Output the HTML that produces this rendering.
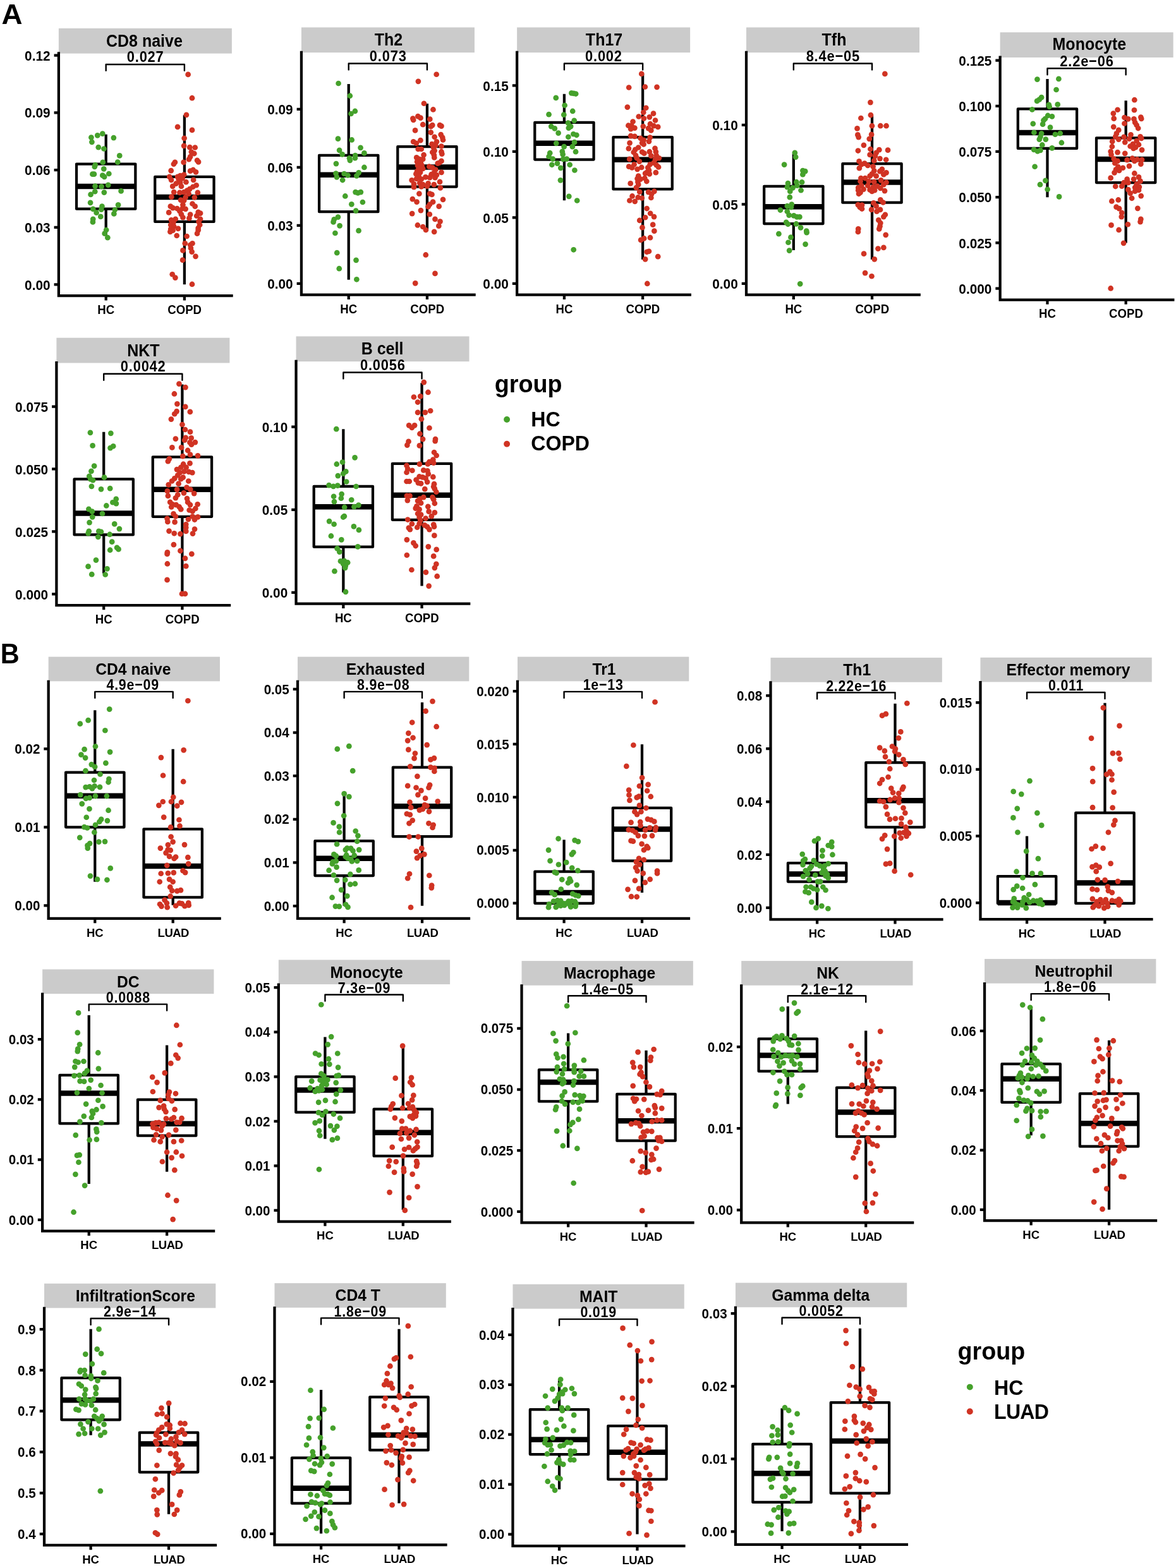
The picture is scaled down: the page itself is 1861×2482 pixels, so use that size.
<!DOCTYPE html>
<html lang="en"><head><meta charset="utf-8"><title>Immune cell infiltration boxplots</title>
<style>
html,body{margin:0;padding:0;background:#fff}
body{width:1861px;height:2482px;overflow:hidden}
svg{display:block}
svg text{font-family:'Liberation Sans', sans-serif;font-weight:bold;fill:#000}
</style></head><body>
<svg width="1861" height="2482" viewBox="0 0 1861 2482">
<rect width="1861" height="2482" fill="#fff"/>
<g>
<rect x="92.88" y="44.85" width="274" height="39.8" fill="#cbcbcb"/>
<text transform="translate(228.38 73.75) scale(1 1.075)" font-size="25.0" text-anchor="middle">CD8 naive</text>
<text transform="translate(79.58 95.75) scale(1 1.075)" font-size="20.8" text-anchor="end">0.12</text>
<text transform="translate(79.58 186.49) scale(1 1.075)" font-size="20.8" text-anchor="end">0.09</text>
<text transform="translate(79.58 277.22) scale(1 1.075)" font-size="20.8" text-anchor="end">0.06</text>
<text transform="translate(79.58 367.95) scale(1 1.075)" font-size="20.8" text-anchor="end">0.03</text>
<text transform="translate(79.58 458.69) scale(1 1.075)" font-size="20.8" text-anchor="end">0.00</text>
<path d="M85.58 87.55H90.75M85.58 178.29H90.75M85.58 269.02H90.75M85.58 359.75H90.75M85.58 450.49H90.75M167.68 470.27V475.45M291.88 470.27V475.45M92.88 82.25V468.15H368.68" fill="none" stroke="#000" stroke-width="4.25"/>
<text transform="translate(167.68 497.05) scale(1 1.04)" font-size="18.6" text-anchor="middle">HC</text>
<text transform="translate(292.18 497.05) scale(1 1.04)" font-size="18.6" text-anchor="middle">COPD</text>
<path d="M167.68 212.66V259.53M167.68 330.71V373.24M121.03 259.53H214.33V330.71H121.03ZM291.88 182.28V279.78M291.88 350.96V450.2M245.23 279.78H338.53V350.96H245.23Z" fill="none" stroke="#000" stroke-width="4.25" stroke-linejoin="round"/>
<path d="M121.03 295.12H214.33M245.23 311.9H338.53" fill="none" stroke="#000" stroke-width="8.5"/>
<g fill="#45a12b"><circle cx="144.39" cy="217.62" r="4.35"/><circle cx="154.26" cy="214.44" r="4.35"/><circle cx="162.29" cy="211.59" r="4.35"/><circle cx="179.86" cy="218.12" r="4.35"/><circle cx="145.4" cy="224.81" r="4.35"/><circle cx="155.77" cy="233.17" r="4.35"/><circle cx="164.47" cy="235.52" r="4.35"/><circle cx="189.22" cy="246.39" r="4.35"/><circle cx="186.21" cy="256.59" r="4.35"/><circle cx="162.79" cy="256.93" r="4.35"/><circle cx="150.75" cy="261.11" r="4.35"/><circle cx="149.75" cy="263.95" r="4.35"/><circle cx="164.3" cy="267.3" r="4.35"/><circle cx="146.4" cy="275.66" r="4.35"/><circle cx="148.91" cy="275.66" r="4.35"/><circle cx="172.33" cy="274.99" r="4.35"/><circle cx="162.29" cy="277.67" r="4.35"/><circle cx="165.14" cy="279.84" r="4.35"/><circle cx="171.16" cy="292.89" r="4.35"/><circle cx="150.58" cy="294.57" r="4.35"/><circle cx="160.62" cy="295.23" r="4.35"/><circle cx="150.25" cy="303.26" r="4.35"/><circle cx="164.8" cy="304.6" r="4.35"/><circle cx="191.57" cy="302.43" r="4.35"/><circle cx="143.56" cy="307.95" r="4.35"/><circle cx="143.06" cy="320.83" r="4.35"/><circle cx="187.05" cy="324.34" r="4.35"/><circle cx="161.46" cy="326.68" r="4.35"/><circle cx="147.24" cy="330.86" r="4.35"/><circle cx="160.29" cy="331.7" r="4.35"/><circle cx="181.86" cy="332.04" r="4.35"/><circle cx="152.59" cy="336.72" r="4.35"/><circle cx="180.36" cy="338.39" r="4.35"/><circle cx="159.28" cy="342.91" r="4.35"/><circle cx="147.24" cy="346.76" r="4.35"/><circle cx="146.9" cy="351.44" r="4.35"/><circle cx="168.15" cy="363.99" r="4.35"/><circle cx="165.64" cy="369.67" r="4.35"/><circle cx="170.32" cy="376.2" r="4.35"/></g>
<g fill="#d03323"><circle cx="297.62" cy="117.92" r="4.35"/><circle cx="303.98" cy="155.22" r="4.35"/><circle cx="294.95" cy="181.82" r="4.35"/><circle cx="281.06" cy="200.89" r="4.35"/><circle cx="303.98" cy="205.91" r="4.35"/><circle cx="291.6" cy="218.79" r="4.35"/><circle cx="291.1" cy="230.83" r="4.35"/><circle cx="300.3" cy="233.17" r="4.35"/><circle cx="308.66" cy="233.51" r="4.35"/><circle cx="302.81" cy="240.53" r="4.35"/><circle cx="307.32" cy="243.04" r="4.35"/><circle cx="301.13" cy="248.06" r="4.35"/><circle cx="298.96" cy="252.24" r="4.35"/><circle cx="312.01" cy="253.92" r="4.35"/><circle cx="314.02" cy="256.43" r="4.35"/><circle cx="276.88" cy="256.93" r="4.35"/><circle cx="274.87" cy="259.77" r="4.35"/><circle cx="290.6" cy="256.93" r="4.35"/><circle cx="270.69" cy="270.14" r="4.35"/><circle cx="301.13" cy="270.64" r="4.35"/><circle cx="305.65" cy="268.97" r="4.35"/><circle cx="310" cy="272.32" r="4.35"/><circle cx="291.1" cy="276.5" r="4.35"/><circle cx="285.24" cy="278.17" r="4.35"/><circle cx="281.06" cy="279.84" r="4.35"/><circle cx="268.18" cy="279.84" r="4.35"/><circle cx="288.59" cy="282.35" r="4.35"/><circle cx="282.73" cy="284.03" r="4.35"/><circle cx="271.02" cy="284.86" r="4.35"/><circle cx="306.15" cy="284.86" r="4.35"/><circle cx="294.44" cy="288.21" r="4.35"/><circle cx="285.24" cy="289.04" r="4.35"/><circle cx="278.55" cy="290.72" r="4.35"/><circle cx="310.67" cy="293.23" r="4.35"/><circle cx="273.2" cy="294.9" r="4.35"/><circle cx="286.92" cy="294.9" r="4.35"/><circle cx="305.32" cy="295.74" r="4.35"/><circle cx="300.3" cy="299.08" r="4.35"/><circle cx="296.12" cy="301.59" r="4.35"/><circle cx="275.21" cy="304.1" r="4.35"/><circle cx="284.41" cy="304.94" r="4.35"/><circle cx="291.1" cy="304.1" r="4.35"/><circle cx="312.84" cy="304.94" r="4.35"/><circle cx="298.63" cy="306.61" r="4.35"/><circle cx="271.36" cy="311.63" r="4.35"/><circle cx="293.61" cy="312.46" r="4.35"/><circle cx="307.83" cy="312.46" r="4.35"/><circle cx="286.08" cy="316.65" r="4.35"/><circle cx="291.1" cy="317.48" r="4.35"/><circle cx="304.48" cy="322.5" r="4.35"/><circle cx="289.43" cy="324.17" r="4.35"/><circle cx="269.85" cy="326.68" r="4.35"/><circle cx="308.66" cy="326.68" r="4.35"/><circle cx="273.53" cy="329.19" r="4.35"/><circle cx="280.22" cy="330.03" r="4.35"/><circle cx="288.59" cy="330.03" r="4.35"/><circle cx="293.61" cy="330.86" r="4.35"/><circle cx="284.41" cy="334.21" r="4.35"/><circle cx="267.18" cy="336.39" r="4.35"/><circle cx="313.68" cy="335.88" r="4.35"/><circle cx="317.03" cy="337.56" r="4.35"/><circle cx="286.92" cy="339.23" r="4.35"/><circle cx="301.13" cy="339.56" r="4.35"/><circle cx="311.17" cy="341.74" r="4.35"/><circle cx="289.43" cy="344.25" r="4.35"/><circle cx="299.46" cy="345.42" r="4.35"/><circle cx="277.72" cy="346.76" r="4.35"/><circle cx="271.02" cy="348.43" r="4.35"/><circle cx="317.03" cy="346.76" r="4.35"/><circle cx="314.52" cy="350.94" r="4.35"/><circle cx="274.37" cy="352.61" r="4.35"/><circle cx="270.19" cy="355.96" r="4.35"/><circle cx="316.19" cy="355.96" r="4.35"/><circle cx="275.21" cy="358.47" r="4.35"/><circle cx="313.68" cy="360.98" r="4.35"/><circle cx="270.19" cy="362.65" r="4.35"/><circle cx="281.9" cy="361.81" r="4.35"/><circle cx="313.68" cy="364.32" r="4.35"/><circle cx="273.53" cy="364.66" r="4.35"/><circle cx="269.35" cy="366.83" r="4.35"/><circle cx="312.01" cy="369.67" r="4.35"/><circle cx="279.72" cy="373.02" r="4.35"/><circle cx="295.61" cy="374.02" r="4.35"/><circle cx="292.77" cy="385.23" r="4.35"/><circle cx="304.48" cy="385.23" r="4.35"/><circle cx="301.13" cy="387.74" r="4.35"/><circle cx="301.97" cy="392.76" r="4.35"/><circle cx="289.43" cy="396.44" r="4.35"/><circle cx="303.64" cy="398.61" r="4.35"/><circle cx="309.5" cy="405.81" r="4.35"/><circle cx="289.09" cy="411.66" r="4.35"/><circle cx="272.7" cy="434.24" r="4.35"/><circle cx="277.38" cy="439.6" r="4.35"/><circle cx="303.98" cy="449.97" r="4.35"/></g>
<path d="M167.68 111.85V101.95H291.88V111.85" fill="none" stroke="#000" stroke-width="2.4" stroke-linecap="round" stroke-linejoin="round"/>
<text transform="translate(230.18 98.2) scale(1 1.125)" font-size="21.9" text-anchor="middle" letter-spacing="0.8">0.027</text>
</g>
<g>
<rect x="476.93" y="43.4" width="274" height="39.8" fill="#cbcbcb"/>
<text transform="translate(615.03 72.3) scale(1 1.075)" font-size="25.0" text-anchor="middle">Th2</text>
<text transform="translate(463.63 181.08) scale(1 1.075)" font-size="20.8" text-anchor="end">0.09</text>
<text transform="translate(463.63 273.08) scale(1 1.075)" font-size="20.8" text-anchor="end">0.06</text>
<text transform="translate(463.63 365.09) scale(1 1.075)" font-size="20.8" text-anchor="end">0.03</text>
<text transform="translate(463.63 457.1) scale(1 1.075)" font-size="20.8" text-anchor="end">0.00</text>
<path d="M469.63 172.88H474.8M469.63 264.88H474.8M469.63 356.89H474.8M469.63 448.9H474.8M551.73 468.82V474M675.93 468.82V474M476.93 80.8V466.7H752.73" fill="none" stroke="#000" stroke-width="4.25"/>
<text transform="translate(551.73 495.6) scale(1 1.04)" font-size="18.6" text-anchor="middle">HC</text>
<text transform="translate(676.23 495.6) scale(1 1.04)" font-size="18.6" text-anchor="middle">COPD</text>
<path d="M551.73 133.1V245.85M551.73 335.21V442.63M505.08 245.85H598.38V335.21H505.08ZM675.93 163.99V232.21M675.93 295.5V365.14M629.28 232.21H722.58V295.5H629.28Z" fill="none" stroke="#000" stroke-width="4.25" stroke-linejoin="round"/>
<path d="M505.08 276.86H598.38M629.28 264.58H722.58" fill="none" stroke="#000" stroke-width="8.5"/>
<g fill="#45a12b"><circle cx="535.59" cy="131.98" r="4.35"/><circle cx="553.82" cy="151.72" r="4.35"/><circle cx="561.85" cy="175.97" r="4.35"/><circle cx="555.49" cy="179.99" r="4.35"/><circle cx="534.92" cy="219.63" r="4.35"/><circle cx="556.66" cy="221.47" r="4.35"/><circle cx="570.55" cy="233.85" r="4.35"/><circle cx="537.09" cy="237.86" r="4.35"/><circle cx="541.61" cy="244.39" r="4.35"/><circle cx="576.4" cy="242.38" r="4.35"/><circle cx="562.18" cy="246.06" r="4.35"/><circle cx="552.98" cy="250.24" r="4.35"/><circle cx="561.85" cy="250.24" r="4.35"/><circle cx="553.82" cy="253.92" r="4.35"/><circle cx="531.91" cy="259.11" r="4.35"/><circle cx="576.4" cy="264.96" r="4.35"/><circle cx="531.57" cy="274.5" r="4.35"/><circle cx="544.62" cy="275" r="4.35"/><circle cx="567.7" cy="273.33" r="4.35"/><circle cx="550.47" cy="277.51" r="4.35"/><circle cx="564.36" cy="278.35" r="4.35"/><circle cx="532.91" cy="280.35" r="4.35"/><circle cx="542.11" cy="285.04" r="4.35"/><circle cx="562.52" cy="304.11" r="4.35"/><circle cx="566.37" cy="305.45" r="4.35"/><circle cx="570.88" cy="304.11" r="4.35"/><circle cx="546.29" cy="310.46" r="4.35"/><circle cx="573.89" cy="320" r="4.35"/><circle cx="556.33" cy="323.34" r="4.35"/><circle cx="563.19" cy="333.55" r="4.35"/><circle cx="534.92" cy="343.59" r="4.35"/><circle cx="528.73" cy="347.27" r="4.35"/><circle cx="527.56" cy="351.45" r="4.35"/><circle cx="537.59" cy="357.3" r="4.35"/><circle cx="567.54" cy="365.16" r="4.35"/><circle cx="530.4" cy="369.01" r="4.35"/><circle cx="533.24" cy="400.13" r="4.35"/><circle cx="563.52" cy="411.84" r="4.35"/><circle cx="536.76" cy="425.22" r="4.35"/><circle cx="564.36" cy="442.28" r="4.35"/></g>
<g fill="#d03323"><circle cx="690.66" cy="117.76" r="4.35"/><circle cx="661.88" cy="128.8" r="4.35"/><circle cx="670.92" cy="163.76" r="4.35"/><circle cx="685.47" cy="173.46" r="4.35"/><circle cx="661.38" cy="184.17" r="4.35"/><circle cx="665.56" cy="186.68" r="4.35"/><circle cx="653.35" cy="187.51" r="4.35"/><circle cx="654.19" cy="190.02" r="4.35"/><circle cx="680.28" cy="188.68" r="4.35"/><circle cx="669.24" cy="197.22" r="4.35"/><circle cx="684.3" cy="198.05" r="4.35"/><circle cx="696.01" cy="198.05" r="4.35"/><circle cx="698.52" cy="199.56" r="4.35"/><circle cx="681.79" cy="200.06" r="4.35"/><circle cx="657.03" cy="206.42" r="4.35"/><circle cx="681.79" cy="209.59" r="4.35"/><circle cx="697.68" cy="213.11" r="4.35"/><circle cx="687.64" cy="216.79" r="4.35"/><circle cx="700.19" cy="217.62" r="4.35"/><circle cx="701.03" cy="221.47" r="4.35"/><circle cx="665.4" cy="222.14" r="4.35"/><circle cx="654.19" cy="224.31" r="4.35"/><circle cx="690.99" cy="224.31" r="4.35"/><circle cx="658.87" cy="226.82" r="4.35"/><circle cx="683.46" cy="228.16" r="4.35"/><circle cx="689.32" cy="230.17" r="4.35"/><circle cx="698.52" cy="231.51" r="4.35"/><circle cx="685.97" cy="233.52" r="4.35"/><circle cx="661.72" cy="236.02" r="4.35"/><circle cx="666.73" cy="236.02" r="4.35"/><circle cx="687.64" cy="238.53" r="4.35"/><circle cx="698.52" cy="240.21" r="4.35"/><circle cx="684.3" cy="241.04" r="4.35"/><circle cx="699.35" cy="243.55" r="4.35"/><circle cx="670.58" cy="245.22" r="4.35"/><circle cx="686.81" cy="245.22" r="4.35"/><circle cx="687.31" cy="249.41" r="4.35"/><circle cx="659.21" cy="249.41" r="4.35"/><circle cx="663.39" cy="251.92" r="4.35"/><circle cx="669.24" cy="251.92" r="4.35"/><circle cx="698.52" cy="254.93" r="4.35"/><circle cx="660.04" cy="256.1" r="4.35"/><circle cx="665.9" cy="257.77" r="4.35"/><circle cx="692.66" cy="258.61" r="4.35"/><circle cx="695.17" cy="257.77" r="4.35"/><circle cx="660.88" cy="261.95" r="4.35"/><circle cx="667.57" cy="261.95" r="4.35"/><circle cx="679.28" cy="263.63" r="4.35"/><circle cx="684.3" cy="265.3" r="4.35"/><circle cx="662.55" cy="266.97" r="4.35"/><circle cx="669.24" cy="266.97" r="4.35"/><circle cx="689.32" cy="268.64" r="4.35"/><circle cx="660.04" cy="271.15" r="4.35"/><circle cx="665.06" cy="272.83" r="4.35"/><circle cx="698.52" cy="272.83" r="4.35"/><circle cx="686.81" cy="273.66" r="4.35"/><circle cx="658.37" cy="275.34" r="4.35"/><circle cx="682.63" cy="276.17" r="4.35"/><circle cx="690.99" cy="277.01" r="4.35"/><circle cx="662.55" cy="278.68" r="4.35"/><circle cx="673.43" cy="280.35" r="4.35"/><circle cx="680.12" cy="281.19" r="4.35"/><circle cx="688.48" cy="281.19" r="4.35"/><circle cx="659.21" cy="282.86" r="4.35"/><circle cx="666.73" cy="283.7" r="4.35"/><circle cx="651.68" cy="285.37" r="4.35"/><circle cx="696.01" cy="287.88" r="4.35"/><circle cx="664.22" cy="289.55" r="4.35"/><circle cx="677.61" cy="290.39" r="4.35"/><circle cx="655.02" cy="291.23" r="4.35"/><circle cx="669.24" cy="292.06" r="4.35"/><circle cx="686.81" cy="292.06" r="4.35"/><circle cx="675.93" cy="294.57" r="4.35"/><circle cx="655.02" cy="296.25" r="4.35"/><circle cx="666.73" cy="295.41" r="4.35"/><circle cx="696.84" cy="297.42" r="4.35"/><circle cx="663.39" cy="306.62" r="4.35"/><circle cx="680.12" cy="306.62" r="4.35"/><circle cx="683.46" cy="307.95" r="4.35"/><circle cx="652.85" cy="315.15" r="4.35"/><circle cx="701.03" cy="315.82" r="4.35"/><circle cx="659.54" cy="319.66" r="4.35"/><circle cx="685.13" cy="319.66" r="4.35"/><circle cx="680.12" cy="323.51" r="4.35"/><circle cx="677.61" cy="327.19" r="4.35"/><circle cx="694.67" cy="326.69" r="4.35"/><circle cx="665.9" cy="333.05" r="4.35"/><circle cx="652.18" cy="338.07" r="4.35"/><circle cx="679.78" cy="339.24" r="4.35"/><circle cx="688.48" cy="346.93" r="4.35"/><circle cx="696.51" cy="350.61" r="4.35"/><circle cx="660.88" cy="356.47" r="4.35"/><circle cx="694.34" cy="357.64" r="4.35"/><circle cx="669.24" cy="358.98" r="4.35"/><circle cx="673.93" cy="363.99" r="4.35"/><circle cx="687.14" cy="366.84" r="4.35"/><circle cx="673.76" cy="403.47" r="4.35"/><circle cx="688.48" cy="432.91" r="4.35"/><circle cx="657.2" cy="448.3" r="4.35"/></g>
<path d="M551.73 110.4V100.5H675.93V110.4" fill="none" stroke="#000" stroke-width="2.4" stroke-linecap="round" stroke-linejoin="round"/>
<text transform="translate(614.23 96.75) scale(1 1.125)" font-size="21.9" text-anchor="middle" letter-spacing="0.8">0.073</text>
</g>
<g>
<rect x="818.12" y="43.4" width="274" height="39.8" fill="#cbcbcb"/>
<text transform="translate(956.02 72.3) scale(1 1.075)" font-size="25.0" text-anchor="middle">Th17</text>
<text transform="translate(804.82 143.61) scale(1 1.075)" font-size="20.8" text-anchor="end">0.15</text>
<text transform="translate(804.82 248.06) scale(1 1.075)" font-size="20.8" text-anchor="end">0.10</text>
<text transform="translate(804.82 352.5) scale(1 1.075)" font-size="20.8" text-anchor="end">0.05</text>
<text transform="translate(804.82 456.95) scale(1 1.075)" font-size="20.8" text-anchor="end">0.00</text>
<path d="M810.82 135.41H815.99M810.82 239.86H815.99M810.82 344.3H815.99M810.82 448.75H815.99M892.92 468.82V474M1017.12 468.82V474M818.12 80.8V466.7H1093.92" fill="none" stroke="#000" stroke-width="4.25"/>
<text transform="translate(892.92 495.6) scale(1 1.04)" font-size="18.6" text-anchor="middle">HC</text>
<text transform="translate(1017.42 495.6) scale(1 1.04)" font-size="18.6" text-anchor="middle">COPD</text>
<path d="M892.92 148.8V193.89M892.92 252.59V317.27M846.27 193.89H939.57V252.59H846.27ZM1017.12 117.26V217.01M1017.12 299.41V410.82M970.47 217.01H1063.77V299.41H970.47Z" fill="none" stroke="#000" stroke-width="4.25" stroke-linejoin="round"/>
<path d="M846.27 226.72H939.57M970.47 252.65H1063.77" fill="none" stroke="#000" stroke-width="8.5"/>
<g fill="#45a12b"><circle cx="879.76" cy="154.89" r="4.35"/><circle cx="904.35" cy="147.37" r="4.35"/><circle cx="907.87" cy="147.87" r="4.35"/><circle cx="911.21" cy="148.54" r="4.35"/><circle cx="893.65" cy="166.77" r="4.35"/><circle cx="906.2" cy="175.97" r="4.35"/><circle cx="868.56" cy="181.16" r="4.35"/><circle cx="892.31" cy="181.66" r="4.35"/><circle cx="908.7" cy="190.86" r="4.35"/><circle cx="899" cy="194.71" r="4.35"/><circle cx="872.24" cy="200.06" r="4.35"/><circle cx="877.76" cy="203.4" r="4.35"/><circle cx="903.18" cy="200.06" r="4.35"/><circle cx="899.84" cy="202.57" r="4.35"/><circle cx="883.61" cy="210.6" r="4.35"/><circle cx="907.37" cy="212.27" r="4.35"/><circle cx="912.38" cy="213.78" r="4.35"/><circle cx="899.34" cy="216.79" r="4.35"/><circle cx="909.04" cy="225.15" r="4.35"/><circle cx="880.27" cy="226.82" r="4.35"/><circle cx="892.65" cy="232.18" r="4.35"/><circle cx="905.86" cy="232.18" r="4.35"/><circle cx="889.8" cy="239.87" r="4.35"/><circle cx="911.05" cy="240.21" r="4.35"/><circle cx="870.23" cy="242.21" r="4.35"/><circle cx="890.64" cy="244.39" r="4.35"/><circle cx="868.56" cy="247.73" r="4.35"/><circle cx="874.75" cy="251.58" r="4.35"/><circle cx="891.14" cy="251.92" r="4.35"/><circle cx="896.83" cy="251.58" r="4.35"/><circle cx="881.94" cy="258.61" r="4.35"/><circle cx="873.41" cy="260.78" r="4.35"/><circle cx="901.68" cy="260.78" r="4.35"/><circle cx="887.29" cy="265.8" r="4.35"/><circle cx="909.37" cy="269.48" r="4.35"/><circle cx="886.96" cy="285.37" r="4.35"/><circle cx="900.34" cy="310.8" r="4.35"/><circle cx="913.22" cy="317.49" r="4.35"/><circle cx="907.7" cy="395.28" r="4.35"/></g>
<g fill="#d03323"><circle cx="1015.26" cy="116.92" r="4.35"/><circle cx="995.19" cy="138.5" r="4.35"/><circle cx="1020.78" cy="137.5" r="4.35"/><circle cx="1039.52" cy="137.83" r="4.35"/><circle cx="992.85" cy="169.61" r="4.35"/><circle cx="1022.29" cy="170.79" r="4.35"/><circle cx="1018.27" cy="177.81" r="4.35"/><circle cx="1034" cy="179.65" r="4.35"/><circle cx="1010.75" cy="184.5" r="4.35"/><circle cx="1027.81" cy="185.34" r="4.35"/><circle cx="1018.94" cy="187.51" r="4.35"/><circle cx="1037.01" cy="190.52" r="4.35"/><circle cx="1001.54" cy="192.53" r="4.35"/><circle cx="1028.98" cy="196.21" r="4.35"/><circle cx="994.35" cy="198.72" r="4.35"/><circle cx="999.37" cy="198.72" r="4.35"/><circle cx="1034.5" cy="199.22" r="4.35"/><circle cx="1041.19" cy="200.9" r="4.35"/><circle cx="1004.39" cy="202.57" r="4.35"/><circle cx="1017.77" cy="200.06" r="4.35"/><circle cx="1026.13" cy="203.07" r="4.35"/><circle cx="998.2" cy="204.24" r="4.35"/><circle cx="1030.32" cy="206.42" r="4.35"/><circle cx="998.2" cy="215.11" r="4.35"/><circle cx="1004.39" cy="215.95" r="4.35"/><circle cx="1028.64" cy="217.62" r="4.35"/><circle cx="1013.59" cy="218.79" r="4.35"/><circle cx="1018.61" cy="221.81" r="4.35"/><circle cx="1026.97" cy="223.81" r="4.35"/><circle cx="996.53" cy="226.32" r="4.35"/><circle cx="1016.1" cy="226.32" r="4.35"/><circle cx="1018.61" cy="228.5" r="4.35"/><circle cx="1010.24" cy="233.52" r="4.35"/><circle cx="994.85" cy="235.19" r="4.35"/><circle cx="1036.51" cy="234.85" r="4.35"/><circle cx="1005.22" cy="236.86" r="4.35"/><circle cx="1027.81" cy="240.21" r="4.35"/><circle cx="1016.1" cy="240.54" r="4.35"/><circle cx="1002.72" cy="241.04" r="4.35"/><circle cx="1037.84" cy="240.21" r="4.35"/><circle cx="1019.44" cy="242.72" r="4.35"/><circle cx="1006.06" cy="246.06" r="4.35"/><circle cx="1030.32" cy="246.56" r="4.35"/><circle cx="1038.68" cy="246.06" r="4.35"/><circle cx="1007.73" cy="250.24" r="4.35"/><circle cx="1042.86" cy="250.24" r="4.35"/><circle cx="996.19" cy="251.92" r="4.35"/><circle cx="1037.01" cy="252.25" r="4.35"/><circle cx="1011.92" cy="255.6" r="4.35"/><circle cx="1034.5" cy="257.77" r="4.35"/><circle cx="1003.55" cy="260.28" r="4.35"/><circle cx="1028.64" cy="260.28" r="4.35"/><circle cx="1038.68" cy="261.12" r="4.35"/><circle cx="995.19" cy="263.63" r="4.35"/><circle cx="1042.03" cy="264.46" r="4.35"/><circle cx="1015.26" cy="264.96" r="4.35"/><circle cx="1000.21" cy="265.3" r="4.35"/><circle cx="1025.3" cy="265.3" r="4.35"/><circle cx="1008.57" cy="267.81" r="4.35"/><circle cx="1026.97" cy="269.48" r="4.35"/><circle cx="1023.63" cy="272.83" r="4.35"/><circle cx="1037.84" cy="273.16" r="4.35"/><circle cx="1021.12" cy="274.5" r="4.35"/><circle cx="1027.81" cy="275.34" r="4.35"/><circle cx="1010.24" cy="278.68" r="4.35"/><circle cx="1020.28" cy="282.03" r="4.35"/><circle cx="1008.57" cy="282.86" r="4.35"/><circle cx="1013.59" cy="283.7" r="4.35"/><circle cx="1023.29" cy="287.04" r="4.35"/><circle cx="1009.41" cy="287.88" r="4.35"/><circle cx="997.7" cy="290.39" r="4.35"/><circle cx="1010.24" cy="292.06" r="4.35"/><circle cx="1006.9" cy="297.08" r="4.35"/><circle cx="1026.13" cy="304.11" r="4.35"/><circle cx="1035.34" cy="302.94" r="4.35"/><circle cx="1012.25" cy="303.77" r="4.35"/><circle cx="1031.15" cy="307.12" r="4.35"/><circle cx="1000.54" cy="310.46" r="4.35"/><circle cx="1030.32" cy="312.97" r="4.35"/><circle cx="1009.74" cy="312.47" r="4.35"/><circle cx="1015.76" cy="313.48" r="4.35"/><circle cx="996.36" cy="317.49" r="4.35"/><circle cx="1004.72" cy="318.83" r="4.35"/><circle cx="1023.63" cy="330.04" r="4.35"/><circle cx="1029.15" cy="337.73" r="4.35"/><circle cx="1035" cy="343.08" r="4.35"/><circle cx="1021.12" cy="344.25" r="4.35"/><circle cx="1012.25" cy="348.94" r="4.35"/><circle cx="1033.16" cy="355.63" r="4.35"/><circle cx="1016.43" cy="360.15" r="4.35"/><circle cx="1035.34" cy="365.67" r="4.35"/><circle cx="1028.98" cy="376.21" r="4.35"/><circle cx="1019.11" cy="377.38" r="4.35"/><circle cx="1014.09" cy="379.89" r="4.35"/><circle cx="1026.97" cy="397.78" r="4.35"/><circle cx="1023.63" cy="398.79" r="4.35"/><circle cx="1041.19" cy="406.15" r="4.35"/><circle cx="1021.12" cy="410.33" r="4.35"/><circle cx="1024.29" cy="448.97" r="4.35"/></g>
<path d="M892.92 110.4V100.5H1017.12V110.4" fill="none" stroke="#000" stroke-width="2.4" stroke-linecap="round" stroke-linejoin="round"/>
<text transform="translate(955.42 96.75) scale(1 1.125)" font-size="21.9" text-anchor="middle" letter-spacing="0.8">0.002</text>
</g>
<g>
<rect x="1181.01" y="43.4" width="274" height="39.8" fill="#cbcbcb"/>
<text transform="translate(1320.01 72.3) scale(1 1.075)" font-size="25.0" text-anchor="middle">Tfh</text>
<text transform="translate(1167.71 206.01) scale(1 1.075)" font-size="20.8" text-anchor="end">0.10</text>
<text transform="translate(1167.71 331.58) scale(1 1.075)" font-size="20.8" text-anchor="end">0.05</text>
<text transform="translate(1167.71 457.15) scale(1 1.075)" font-size="20.8" text-anchor="end">0.00</text>
<path d="M1173.71 197.81H1178.89M1173.71 323.38H1178.89M1173.71 448.95H1178.89M1255.81 468.82V474M1380.01 468.82V474M1181.01 80.8V466.7H1456.81" fill="none" stroke="#000" stroke-width="4.25"/>
<text transform="translate(1255.81 495.6) scale(1 1.04)" font-size="18.6" text-anchor="middle">HC</text>
<text transform="translate(1380.31 495.6) scale(1 1.04)" font-size="18.6" text-anchor="middle">COPD</text>
<path d="M1255.81 243.7V294.91M1255.81 354.05V395.99M1209.16 294.91H1302.46V354.05H1209.16ZM1380.01 182.96V259.15M1380.01 320.72V410.82M1333.36 259.15H1426.66V320.72H1333.36Z" fill="none" stroke="#000" stroke-width="4.25" stroke-linejoin="round"/>
<path d="M1209.16 327.31H1302.46M1333.36 288.62H1426.66" fill="none" stroke="#000" stroke-width="8.5"/>
<g fill="#45a12b"><circle cx="1257.82" cy="241.88" r="4.35"/><circle cx="1259.16" cy="248.57" r="4.35"/><circle cx="1241.09" cy="260.61" r="4.35"/><circle cx="1270.37" cy="269.98" r="4.35"/><circle cx="1274.21" cy="271.15" r="4.35"/><circle cx="1270.37" cy="276.17" r="4.35"/><circle cx="1246.95" cy="290.06" r="4.35"/><circle cx="1260.33" cy="288.22" r="4.35"/><circle cx="1269.03" cy="288.38" r="4.35"/><circle cx="1261.5" cy="293.74" r="4.35"/><circle cx="1245.78" cy="296.25" r="4.35"/><circle cx="1254.47" cy="297.42" r="4.35"/><circle cx="1267.52" cy="301.26" r="4.35"/><circle cx="1250.29" cy="302.94" r="4.35"/><circle cx="1249.79" cy="312.14" r="4.35"/><circle cx="1252.8" cy="323.51" r="4.35"/><circle cx="1245.78" cy="326.02" r="4.35"/><circle cx="1251.97" cy="328.03" r="4.35"/><circle cx="1234.9" cy="332.54" r="4.35"/><circle cx="1245.78" cy="334.72" r="4.35"/><circle cx="1248.62" cy="340.57" r="4.35"/><circle cx="1256.15" cy="341.41" r="4.35"/><circle cx="1261.17" cy="343.42" r="4.35"/><circle cx="1265.35" cy="343.42" r="4.35"/><circle cx="1244.1" cy="351.95" r="4.35"/><circle cx="1246.95" cy="354.79" r="4.35"/><circle cx="1259.99" cy="354.46" r="4.35"/><circle cx="1267.02" cy="360.31" r="4.35"/><circle cx="1276.22" cy="365.67" r="4.35"/><circle cx="1276.56" cy="368.18" r="4.35"/><circle cx="1232.39" cy="370.18" r="4.35"/><circle cx="1251.46" cy="375.7" r="4.35"/><circle cx="1247.45" cy="383.73" r="4.35"/><circle cx="1274.55" cy="386.58" r="4.35"/><circle cx="1249.12" cy="396.61" r="4.35"/><circle cx="1266.18" cy="449.31" r="4.35"/></g>
<g fill="#d03323"><circle cx="1400.34" cy="116.92" r="4.35"/><circle cx="1377.43" cy="162.09" r="4.35"/><circle cx="1377.93" cy="182.16" r="4.35"/><circle cx="1362.37" cy="187.01" r="4.35"/><circle cx="1379.93" cy="199.22" r="4.35"/><circle cx="1393.32" cy="199.22" r="4.35"/><circle cx="1402.52" cy="199.22" r="4.35"/><circle cx="1356.52" cy="203.4" r="4.35"/><circle cx="1379.1" cy="212.94" r="4.35"/><circle cx="1357.35" cy="213.44" r="4.35"/><circle cx="1358.69" cy="217.12" r="4.35"/><circle cx="1375.75" cy="219.8" r="4.35"/><circle cx="1366.89" cy="229.84" r="4.35"/><circle cx="1377.43" cy="236.02" r="4.35"/><circle cx="1391.31" cy="237.2" r="4.35"/><circle cx="1405.03" cy="237.7" r="4.35"/><circle cx="1357.85" cy="238.53" r="4.35"/><circle cx="1386.63" cy="241.88" r="4.35"/><circle cx="1376.59" cy="244.89" r="4.35"/><circle cx="1384.95" cy="246.9" r="4.35"/><circle cx="1392.48" cy="251.08" r="4.35"/><circle cx="1402.18" cy="252.75" r="4.35"/><circle cx="1383.28" cy="254.43" r="4.35"/><circle cx="1359.53" cy="255.26" r="4.35"/><circle cx="1368.22" cy="258.61" r="4.35"/><circle cx="1363.21" cy="260.28" r="4.35"/><circle cx="1373.24" cy="261.95" r="4.35"/><circle cx="1381.61" cy="263.63" r="4.35"/><circle cx="1359.86" cy="266.13" r="4.35"/><circle cx="1395.83" cy="267.81" r="4.35"/><circle cx="1383.28" cy="270.32" r="4.35"/><circle cx="1392.48" cy="271.15" r="4.35"/><circle cx="1402.52" cy="273.33" r="4.35"/><circle cx="1379.93" cy="275.34" r="4.35"/><circle cx="1398.34" cy="276.17" r="4.35"/><circle cx="1376.59" cy="278.68" r="4.35"/><circle cx="1386.63" cy="278.68" r="4.35"/><circle cx="1362.37" cy="282.03" r="4.35"/><circle cx="1369.06" cy="282.03" r="4.35"/><circle cx="1394.15" cy="285.37" r="4.35"/><circle cx="1361.53" cy="287.04" r="4.35"/><circle cx="1374.92" cy="287.04" r="4.35"/><circle cx="1383.28" cy="287.88" r="4.35"/><circle cx="1402.52" cy="288.72" r="4.35"/><circle cx="1398.34" cy="292.06" r="4.35"/><circle cx="1363.21" cy="293.74" r="4.35"/><circle cx="1373.24" cy="293.74" r="4.35"/><circle cx="1388.3" cy="294.57" r="4.35"/><circle cx="1381.61" cy="296.25" r="4.35"/><circle cx="1358.19" cy="297.08" r="4.35"/><circle cx="1393.32" cy="297.92" r="4.35"/><circle cx="1366.55" cy="299.59" r="4.35"/><circle cx="1358.19" cy="301.26" r="4.35"/><circle cx="1376.59" cy="300.43" r="4.35"/><circle cx="1400.01" cy="302.1" r="4.35"/><circle cx="1384.12" cy="301.26" r="4.35"/><circle cx="1379.93" cy="302.94" r="4.35"/><circle cx="1361.53" cy="304.61" r="4.35"/><circle cx="1359.02" cy="306.78" r="4.35"/><circle cx="1393.32" cy="316.32" r="4.35"/><circle cx="1397.5" cy="320.5" r="4.35"/><circle cx="1382.44" cy="321.34" r="4.35"/><circle cx="1357.85" cy="324.18" r="4.35"/><circle cx="1364.04" cy="324.68" r="4.35"/><circle cx="1386.63" cy="326.36" r="4.35"/><circle cx="1360.7" cy="328.03" r="4.35"/><circle cx="1364.04" cy="330.54" r="4.35"/><circle cx="1379.1" cy="331.88" r="4.35"/><circle cx="1392.98" cy="331.88" r="4.35"/><circle cx="1387.46" cy="334.72" r="4.35"/><circle cx="1400.84" cy="339.74" r="4.35"/><circle cx="1398.34" cy="343.08" r="4.35"/><circle cx="1390.31" cy="348.44" r="4.35"/><circle cx="1393.32" cy="353.12" r="4.35"/><circle cx="1392.48" cy="358.14" r="4.35"/><circle cx="1391.31" cy="362.32" r="4.35"/><circle cx="1358.19" cy="362.32" r="4.35"/><circle cx="1357.85" cy="367" r="4.35"/><circle cx="1401.68" cy="371.86" r="4.35"/><circle cx="1389.47" cy="393.6" r="4.35"/><circle cx="1398.34" cy="391.93" r="4.35"/><circle cx="1367.05" cy="401.63" r="4.35"/><circle cx="1383.78" cy="410.33" r="4.35"/><circle cx="1369.06" cy="432.08" r="4.35"/><circle cx="1379.43" cy="437.26" r="4.35"/></g>
<path d="M1255.81 110.4V100.5H1380.01V110.4" fill="none" stroke="#000" stroke-width="2.4" stroke-linecap="round" stroke-linejoin="round"/>
<text transform="translate(1318.31 96.75) scale(1 1.125)" font-size="21.9" text-anchor="middle" letter-spacing="0.8">8.4e−05</text>
</g>
<g>
<rect x="1582.66" y="51.21" width="274" height="39.8" fill="#cbcbcb"/>
<text transform="translate(1723.86 78.81) scale(1 1.075)" font-size="25.0" text-anchor="middle">Monocyte</text>
<text transform="translate(1569.36 103.79) scale(1 1.075)" font-size="20.8" text-anchor="end">0.125</text>
<text transform="translate(1569.36 175.98) scale(1 1.075)" font-size="20.8" text-anchor="end">0.100</text>
<text transform="translate(1569.36 248.17) scale(1 1.075)" font-size="20.8" text-anchor="end">0.075</text>
<text transform="translate(1569.36 320.37) scale(1 1.075)" font-size="20.8" text-anchor="end">0.050</text>
<text transform="translate(1569.36 392.56) scale(1 1.075)" font-size="20.8" text-anchor="end">0.025</text>
<text transform="translate(1569.36 464.75) scale(1 1.075)" font-size="20.8" text-anchor="end">0.000</text>
<path d="M1575.36 95.59H1580.54M1575.36 167.78H1580.54M1575.36 239.97H1580.54M1575.36 312.17H1580.54M1575.36 384.36H1580.54M1575.36 456.55H1580.54M1657.46 476.64V481.81M1781.66 476.64V481.81M1582.66 88.61V474.51H1858.46" fill="none" stroke="#000" stroke-width="4.25"/>
<text transform="translate(1657.46 503.41) scale(1 1.04)" font-size="18.6" text-anchor="middle">HC</text>
<text transform="translate(1781.96 503.41) scale(1 1.04)" font-size="18.6" text-anchor="middle">COPD</text>
<path d="M1657.46 124.93V172.45M1657.46 234.94V312.23M1610.81 172.45H1704.11V234.94H1610.81ZM1781.66 159.18V218.36M1781.66 289.05V384.41M1735.01 218.36H1828.31V289.05H1735.01Z" fill="none" stroke="#000" stroke-width="4.25" stroke-linejoin="round"/>
<path d="M1610.81 209.99H1704.11M1735.01 251.97H1828.31" fill="none" stroke="#000" stroke-width="8.5"/>
<g fill="#45a12b"><circle cx="1641.42" cy="125.59" r="4.35"/><circle cx="1675.38" cy="124.92" r="4.35"/><circle cx="1671.53" cy="141.98" r="4.35"/><circle cx="1648.11" cy="154.2" r="4.35"/><circle cx="1644.76" cy="157.54" r="4.35"/><circle cx="1641.08" cy="159.88" r="4.35"/><circle cx="1673.7" cy="165.4" r="4.35"/><circle cx="1659.82" cy="165.9" r="4.35"/><circle cx="1660.66" cy="168.75" r="4.35"/><circle cx="1633.39" cy="173.43" r="4.35"/><circle cx="1658.15" cy="182.97" r="4.35"/><circle cx="1664.84" cy="184.31" r="4.35"/><circle cx="1653.97" cy="187.99" r="4.35"/><circle cx="1651.46" cy="190.49" r="4.35"/><circle cx="1634.73" cy="195.85" r="4.35"/><circle cx="1650.12" cy="196.68" r="4.35"/><circle cx="1661.99" cy="201.7" r="4.35"/><circle cx="1636.4" cy="209.73" r="4.35"/><circle cx="1648.11" cy="211.4" r="4.35"/><circle cx="1669.86" cy="212.74" r="4.35"/><circle cx="1677.72" cy="211.07" r="4.35"/><circle cx="1646.44" cy="216.42" r="4.35"/><circle cx="1644.76" cy="220.61" r="4.35"/><circle cx="1654.8" cy="220.61" r="4.35"/><circle cx="1679.89" cy="225.96" r="4.35"/><circle cx="1649.28" cy="229.47" r="4.35"/><circle cx="1664.84" cy="234.32" r="4.35"/><circle cx="1636.07" cy="236.83" r="4.35"/><circle cx="1641.92" cy="239.51" r="4.35"/><circle cx="1646.44" cy="237.84" r="4.35"/><circle cx="1637.57" cy="263.76" r="4.35"/><circle cx="1654.47" cy="285.84" r="4.35"/><circle cx="1645.94" cy="292.2" r="4.35"/><circle cx="1657.65" cy="299.73" r="4.35"/><circle cx="1676.05" cy="311.44" r="4.35"/></g>
<g fill="#d03323"><circle cx="1795.32" cy="158.21" r="4.35"/><circle cx="1768.55" cy="173.77" r="4.35"/><circle cx="1794.98" cy="174.27" r="4.35"/><circle cx="1761.86" cy="179.62" r="4.35"/><circle cx="1805.35" cy="185.48" r="4.35"/><circle cx="1806.19" cy="187.99" r="4.35"/><circle cx="1762.7" cy="187.65" r="4.35"/><circle cx="1779.43" cy="185.98" r="4.35"/><circle cx="1785.28" cy="188.32" r="4.35"/><circle cx="1794.48" cy="188.32" r="4.35"/><circle cx="1796.15" cy="193.84" r="4.35"/><circle cx="1779.43" cy="195.51" r="4.35"/><circle cx="1798.66" cy="198.02" r="4.35"/><circle cx="1801.17" cy="203.04" r="4.35"/><circle cx="1762.2" cy="200.87" r="4.35"/><circle cx="1770.22" cy="205.88" r="4.35"/><circle cx="1766.88" cy="211.4" r="4.35"/><circle cx="1789.46" cy="213.41" r="4.35"/><circle cx="1765.21" cy="216.42" r="4.35"/><circle cx="1778.59" cy="216.76" r="4.35"/><circle cx="1804.52" cy="216.42" r="4.35"/><circle cx="1806.19" cy="218.93" r="4.35"/><circle cx="1786.95" cy="219.77" r="4.35"/><circle cx="1770.22" cy="220.61" r="4.35"/><circle cx="1760.19" cy="223.95" r="4.35"/><circle cx="1798.66" cy="223.11" r="4.35"/><circle cx="1780.26" cy="225.12" r="4.35"/><circle cx="1792.81" cy="228.13" r="4.35"/><circle cx="1802.01" cy="228.97" r="4.35"/><circle cx="1788.63" cy="231.48" r="4.35"/><circle cx="1759.85" cy="231.98" r="4.35"/><circle cx="1796.99" cy="233.15" r="4.35"/><circle cx="1793.64" cy="234.82" r="4.35"/><circle cx="1807.03" cy="237.33" r="4.35"/><circle cx="1757.68" cy="239.84" r="4.35"/><circle cx="1768.55" cy="241.18" r="4.35"/><circle cx="1780.26" cy="242.85" r="4.35"/><circle cx="1758.52" cy="244.86" r="4.35"/><circle cx="1791.97" cy="250.72" r="4.35"/><circle cx="1762.7" cy="251.55" r="4.35"/><circle cx="1783.61" cy="253.22" r="4.35"/><circle cx="1799.5" cy="252.39" r="4.35"/><circle cx="1807.03" cy="252.89" r="4.35"/><circle cx="1768.55" cy="254.9" r="4.35"/><circle cx="1795.32" cy="254.9" r="4.35"/><circle cx="1764.37" cy="258.24" r="4.35"/><circle cx="1805.35" cy="259.58" r="4.35"/><circle cx="1786.95" cy="262.93" r="4.35"/><circle cx="1769.39" cy="264.1" r="4.35"/><circle cx="1776.92" cy="265.77" r="4.35"/><circle cx="1766.04" cy="268.28" r="4.35"/><circle cx="1771.06" cy="269.95" r="4.35"/><circle cx="1763.53" cy="273.3" r="4.35"/><circle cx="1795.32" cy="274.47" r="4.35"/><circle cx="1802.01" cy="280.32" r="4.35"/><circle cx="1757.68" cy="281.66" r="4.35"/><circle cx="1783.61" cy="283.67" r="4.35"/><circle cx="1794.15" cy="283.67" r="4.35"/><circle cx="1804.52" cy="286.68" r="4.35"/><circle cx="1785.28" cy="289.19" r="4.35"/><circle cx="1778.59" cy="289.19" r="4.35"/><circle cx="1798.66" cy="291.7" r="4.35"/><circle cx="1775.24" cy="294.71" r="4.35"/><circle cx="1765.21" cy="295.04" r="4.35"/><circle cx="1802.84" cy="295.88" r="4.35"/><circle cx="1796.15" cy="296.72" r="4.35"/><circle cx="1785.28" cy="300.06" r="4.35"/><circle cx="1802.01" cy="300.9" r="4.35"/><circle cx="1796.15" cy="302.57" r="4.35"/><circle cx="1788.63" cy="305.92" r="4.35"/><circle cx="1805.69" cy="310.1" r="4.35"/><circle cx="1791.13" cy="313.78" r="4.35"/><circle cx="1769.72" cy="316.46" r="4.35"/><circle cx="1759.35" cy="318.46" r="4.35"/><circle cx="1766.54" cy="327.66" r="4.35"/><circle cx="1771.06" cy="330.17" r="4.35"/><circle cx="1800.34" cy="329.84" r="4.35"/><circle cx="1775.24" cy="336.86" r="4.35"/><circle cx="1774.74" cy="343.05" r="4.35"/><circle cx="1805.35" cy="346.9" r="4.35"/><circle cx="1804.52" cy="351.08" r="4.35"/><circle cx="1784.78" cy="355.27" r="4.35"/><circle cx="1758.52" cy="356.44" r="4.35"/><circle cx="1770.56" cy="363.96" r="4.35"/><circle cx="1778.09" cy="384.87" r="4.35"/><circle cx="1757.68" cy="456.47" r="4.35"/></g>
<path d="M1657.46 118.21V108.31H1781.66V118.21" fill="none" stroke="#000" stroke-width="2.4" stroke-linecap="round" stroke-linejoin="round"/>
<text transform="translate(1719.96 104.56) scale(1 1.125)" font-size="21.9" text-anchor="middle" letter-spacing="0.8">2.2e−06</text>
</g>
<g>
<rect x="89.4" y="534.72" width="274" height="39.8" fill="#cbcbcb"/>
<text transform="translate(226.9 563.62) scale(1 1.075)" font-size="25.0" text-anchor="middle">NKT</text>
<text transform="translate(76.1 651.71) scale(1 1.075)" font-size="20.8" text-anchor="end">0.075</text>
<text transform="translate(76.1 750.66) scale(1 1.075)" font-size="20.8" text-anchor="end">0.050</text>
<text transform="translate(76.1 849.61) scale(1 1.075)" font-size="20.8" text-anchor="end">0.025</text>
<text transform="translate(76.1 948.56) scale(1 1.075)" font-size="20.8" text-anchor="end">0.000</text>
<path d="M82.1 643.51H87.28M82.1 742.46H87.28M82.1 841.41H87.28M82.1 940.36H87.28M164.2 960.14V965.32M288.4 960.14V965.32M89.4 572.12V958.02H365.2" fill="none" stroke="#000" stroke-width="4.25"/>
<text transform="translate(164.2 986.92) scale(1 1.04)" font-size="18.6" text-anchor="middle">HC</text>
<text transform="translate(288.7 986.92) scale(1 1.04)" font-size="18.6" text-anchor="middle">COPD</text>
<path d="M164.2 683.71V758.26M164.2 846.41V907.85M117.55 758.26H210.85V846.41H117.55ZM288.4 608.43V723.26M288.4 817.75V939.85M241.75 723.26H335.05V817.75H241.75Z" fill="none" stroke="#000" stroke-width="4.25" stroke-linejoin="round"/>
<path d="M117.55 812.4H210.85M241.75 774.7H335.05" fill="none" stroke="#000" stroke-width="8.5"/>
<g fill="#45a12b"><circle cx="142.9" cy="684.87" r="4.35"/><circle cx="175.35" cy="685.87" r="4.35"/><circle cx="146.58" cy="705.44" r="4.35"/><circle cx="179.2" cy="706.28" r="4.35"/><circle cx="174.52" cy="709.12" r="4.35"/><circle cx="149.09" cy="737.56" r="4.35"/><circle cx="144.41" cy="745.92" r="4.35"/><circle cx="141.23" cy="753.95" r="4.35"/><circle cx="164.98" cy="755.63" r="4.35"/><circle cx="143.24" cy="758.47" r="4.35"/><circle cx="147.08" cy="760.14" r="4.35"/><circle cx="144.91" cy="769.84" r="4.35"/><circle cx="159.97" cy="774.36" r="4.35"/><circle cx="174.18" cy="773.19" r="4.35"/><circle cx="183.72" cy="789.92" r="4.35"/><circle cx="178.37" cy="795.27" r="4.35"/><circle cx="183.89" cy="797.11" r="4.35"/><circle cx="168.33" cy="800.46" r="4.35"/><circle cx="140.39" cy="805.81" r="4.35"/><circle cx="145.75" cy="809.66" r="4.35"/><circle cx="161.97" cy="813" r="4.35"/><circle cx="146.25" cy="818.36" r="4.35"/><circle cx="141.56" cy="827.05" r="4.35"/><circle cx="181.21" cy="829.4" r="4.35"/><circle cx="188.9" cy="837.09" r="4.35"/><circle cx="140.73" cy="840.94" r="4.35"/><circle cx="156.29" cy="840.94" r="4.35"/><circle cx="159.97" cy="841.77" r="4.35"/><circle cx="139.56" cy="844.28" r="4.35"/><circle cx="173.68" cy="845.96" r="4.35"/><circle cx="155.28" cy="849.8" r="4.35"/><circle cx="177.2" cy="857.67" r="4.35"/><circle cx="185.06" cy="866.87" r="4.35"/><circle cx="187.57" cy="869.38" r="4.35"/><circle cx="174.18" cy="870.71" r="4.35"/><circle cx="151.94" cy="886.61" r="4.35"/><circle cx="139.56" cy="896.64" r="4.35"/><circle cx="169.5" cy="900.32" r="4.35"/><circle cx="145.24" cy="909.19" r="4.35"/><circle cx="166.66" cy="909.52" r="4.35"/></g>
<g fill="#d03323"><circle cx="283.42" cy="607.58" r="4.35"/><circle cx="293.45" cy="613.1" r="4.35"/><circle cx="275.89" cy="623.47" r="4.35"/><circle cx="280.41" cy="639.37" r="4.35"/><circle cx="293.29" cy="643.88" r="4.35"/><circle cx="279.57" cy="651.08" r="4.35"/><circle cx="300.81" cy="651.91" r="4.35"/><circle cx="276.22" cy="655.26" r="4.35"/><circle cx="270.87" cy="663.62" r="4.35"/><circle cx="288.44" cy="671.99" r="4.35"/><circle cx="292.95" cy="680.02" r="4.35"/><circle cx="300.98" cy="683.7" r="4.35"/><circle cx="277.9" cy="694.57" r="4.35"/><circle cx="293.79" cy="692.9" r="4.35"/><circle cx="302.66" cy="693.4" r="4.35"/><circle cx="292.12" cy="696.74" r="4.35"/><circle cx="308.84" cy="700.09" r="4.35"/><circle cx="300.48" cy="700.42" r="4.35"/><circle cx="302.99" cy="703.77" r="4.35"/><circle cx="272.38" cy="708.45" r="4.35"/><circle cx="287.1" cy="708.45" r="4.35"/><circle cx="297.13" cy="712.97" r="4.35"/><circle cx="300.98" cy="719.66" r="4.35"/><circle cx="313.03" cy="721.33" r="4.35"/><circle cx="289.27" cy="722.17" r="4.35"/><circle cx="267.86" cy="726.35" r="4.35"/><circle cx="265.85" cy="730.2" r="4.35"/><circle cx="300.48" cy="733.38" r="4.35"/><circle cx="290.11" cy="734.72" r="4.35"/><circle cx="286.26" cy="739.73" r="4.35"/><circle cx="294.63" cy="739.73" r="4.35"/><circle cx="279.9" cy="743.08" r="4.35"/><circle cx="291.28" cy="746.43" r="4.35"/><circle cx="298.81" cy="746.93" r="4.35"/><circle cx="304.33" cy="748.1" r="4.35"/><circle cx="284.59" cy="748.1" r="4.35"/><circle cx="281.24" cy="752.28" r="4.35"/><circle cx="289.61" cy="755.63" r="4.35"/><circle cx="276.22" cy="757.3" r="4.35"/><circle cx="286.26" cy="758.13" r="4.35"/><circle cx="298.31" cy="761.48" r="4.35"/><circle cx="272.04" cy="761.48" r="4.35"/><circle cx="282.58" cy="765.66" r="4.35"/><circle cx="266.69" cy="767.34" r="4.35"/><circle cx="295.46" cy="771.52" r="4.35"/><circle cx="280.07" cy="774.86" r="4.35"/><circle cx="301.32" cy="774.86" r="4.35"/><circle cx="264.85" cy="777.37" r="4.35"/><circle cx="290.95" cy="780.38" r="4.35"/><circle cx="307.17" cy="781.05" r="4.35"/><circle cx="281.24" cy="783.23" r="4.35"/><circle cx="265.85" cy="784.9" r="4.35"/><circle cx="277.9" cy="788.25" r="4.35"/><circle cx="295.96" cy="789.08" r="4.35"/><circle cx="269.2" cy="794.94" r="4.35"/><circle cx="297.13" cy="794.94" r="4.35"/><circle cx="272.88" cy="798.28" r="4.35"/><circle cx="300.98" cy="799.12" r="4.35"/><circle cx="312.69" cy="798.28" r="4.35"/><circle cx="278.73" cy="799.12" r="4.35"/><circle cx="283.75" cy="802.46" r="4.35"/><circle cx="271.21" cy="802.46" r="4.35"/><circle cx="309.35" cy="804.97" r="4.35"/><circle cx="286.26" cy="806.14" r="4.35"/><circle cx="299.64" cy="807.48" r="4.35"/><circle cx="304.66" cy="809.16" r="4.35"/><circle cx="274.55" cy="813.34" r="4.35"/><circle cx="277.9" cy="817.52" r="4.35"/><circle cx="304.66" cy="817.52" r="4.35"/><circle cx="313.03" cy="818.36" r="4.35"/><circle cx="264.52" cy="820.86" r="4.35"/><circle cx="308.01" cy="822.54" r="4.35"/><circle cx="297.97" cy="822.04" r="4.35"/><circle cx="276.56" cy="826.39" r="4.35"/><circle cx="265.35" cy="825.88" r="4.35"/><circle cx="294.29" cy="830.07" r="4.35"/><circle cx="294.29" cy="835.08" r="4.35"/><circle cx="308.01" cy="837.59" r="4.35"/><circle cx="267.53" cy="840.6" r="4.35"/><circle cx="294.29" cy="840.94" r="4.35"/><circle cx="275.72" cy="844.28" r="4.35"/><circle cx="285.43" cy="845.12" r="4.35"/><circle cx="305" cy="844.62" r="4.35"/><circle cx="274.89" cy="862.18" r="4.35"/><circle cx="285.43" cy="871.89" r="4.35"/><circle cx="264.85" cy="874.39" r="4.35"/><circle cx="303.32" cy="876.9" r="4.35"/><circle cx="264.52" cy="876.9" r="4.35"/><circle cx="292.95" cy="883.93" r="4.35"/><circle cx="264.85" cy="892.46" r="4.35"/><circle cx="294.29" cy="896.14" r="4.35"/><circle cx="264.52" cy="917.89" r="4.35"/><circle cx="287.93" cy="939.97" r="4.35"/><circle cx="292.95" cy="939.97" r="4.35"/></g>
<path d="M164.2 601.72V591.82H288.4V601.72" fill="none" stroke="#000" stroke-width="2.4" stroke-linecap="round" stroke-linejoin="round"/>
<text transform="translate(226.7 588.07) scale(1 1.125)" font-size="21.9" text-anchor="middle" letter-spacing="0.8">0.0042</text>
</g>
<g>
<rect x="468.54" y="532.41" width="274" height="39.8" fill="#cbcbcb"/>
<text transform="translate(605.04 561.31) scale(1 1.075)" font-size="25.0" text-anchor="middle">B cell</text>
<text transform="translate(455.24 683.92) scale(1 1.075)" font-size="20.8" text-anchor="end">0.10</text>
<text transform="translate(455.24 814.99) scale(1 1.075)" font-size="20.8" text-anchor="end">0.05</text>
<text transform="translate(455.24 946.05) scale(1 1.075)" font-size="20.8" text-anchor="end">0.00</text>
<path d="M461.24 675.72H466.41M461.24 806.79H466.41M461.24 937.85H466.41M543.34 957.83V963.01M667.54 957.83V963.01M468.54 569.81V955.71H744.34" fill="none" stroke="#000" stroke-width="4.25"/>
<text transform="translate(543.34 984.61) scale(1 1.04)" font-size="18.6" text-anchor="middle">HC</text>
<text transform="translate(667.84 984.61) scale(1 1.04)" font-size="18.6" text-anchor="middle">COPD</text>
<path d="M543.34 679.26V769.82M543.34 865.7V937.65M496.69 769.82H589.99V865.7H496.69ZM667.54 606.14V733.8M667.54 822.87V927.51M620.89 733.8H714.19V822.87H620.89Z" fill="none" stroke="#000" stroke-width="4.25" stroke-linejoin="round"/>
<path d="M496.69 802.18H589.99M620.89 783.65H714.19" fill="none" stroke="#000" stroke-width="8.5"/>
<g fill="#45a12b"><circle cx="532.27" cy="679.19" r="4.35"/><circle cx="561.55" cy="724.35" r="4.35"/><circle cx="541.98" cy="731.54" r="4.35"/><circle cx="532.78" cy="734.72" r="4.35"/><circle cx="547.33" cy="746.43" r="4.35"/><circle cx="543.15" cy="749.78" r="4.35"/><circle cx="534.78" cy="753.12" r="4.35"/><circle cx="548.17" cy="762.49" r="4.35"/><circle cx="520.56" cy="768.18" r="4.35"/><circle cx="527.59" cy="769.85" r="4.35"/><circle cx="534.28" cy="768.68" r="4.35"/><circle cx="563.56" cy="770.02" r="4.35"/><circle cx="540.64" cy="782.06" r="4.35"/><circle cx="528.09" cy="785.74" r="4.35"/><circle cx="539.8" cy="788.75" r="4.35"/><circle cx="556.2" cy="791.26" r="4.35"/><circle cx="528.93" cy="794.11" r="4.35"/><circle cx="567.4" cy="799.63" r="4.35"/><circle cx="545.15" cy="802.97" r="4.35"/><circle cx="560.38" cy="802.14" r="4.35"/><circle cx="544.82" cy="817.19" r="4.35"/><circle cx="543.15" cy="818.53" r="4.35"/><circle cx="521.07" cy="825.05" r="4.35"/><circle cx="528.59" cy="829.74" r="4.35"/><circle cx="559.88" cy="833.42" r="4.35"/><circle cx="567.9" cy="838.94" r="4.35"/><circle cx="523.91" cy="848.47" r="4.35"/><circle cx="540.3" cy="854.33" r="4.35"/><circle cx="566.23" cy="865.37" r="4.35"/><circle cx="533.61" cy="868.21" r="4.35"/><circle cx="537.29" cy="873.57" r="4.35"/><circle cx="538.97" cy="888.29" r="4.35"/><circle cx="544.82" cy="887.78" r="4.35"/><circle cx="550.17" cy="890.46" r="4.35"/><circle cx="543.15" cy="892.47" r="4.35"/><circle cx="546.83" cy="895.48" r="4.35"/><circle cx="546.16" cy="898.82" r="4.35"/><circle cx="529.43" cy="904.18" r="4.35"/><circle cx="546.99" cy="936.8" r="4.35"/></g>
<g fill="#d03323"><circle cx="670.78" cy="605.08" r="4.35"/><circle cx="677.47" cy="620.97" r="4.35"/><circle cx="665.26" cy="627.33" r="4.35"/><circle cx="654.89" cy="628.5" r="4.35"/><circle cx="661.08" cy="636.53" r="4.35"/><circle cx="681.15" cy="650.25" r="4.35"/><circle cx="672.79" cy="652.92" r="4.35"/><circle cx="661.08" cy="652.92" r="4.35"/><circle cx="666.93" cy="663.29" r="4.35"/><circle cx="647.2" cy="673.33" r="4.35"/><circle cx="656.06" cy="673.33" r="4.35"/><circle cx="651.88" cy="677.01" r="4.35"/><circle cx="679.48" cy="677.51" r="4.35"/><circle cx="664.43" cy="686.71" r="4.35"/><circle cx="669.11" cy="695.08" r="4.35"/><circle cx="689.02" cy="695.08" r="4.35"/><circle cx="688.68" cy="698.09" r="4.35"/><circle cx="646.53" cy="698.93" r="4.35"/><circle cx="644.35" cy="704.61" r="4.35"/><circle cx="663.92" cy="705.45" r="4.35"/><circle cx="687.01" cy="715.99" r="4.35"/><circle cx="690.69" cy="721.01" r="4.35"/><circle cx="685.34" cy="727.7" r="4.35"/><circle cx="679.48" cy="731.04" r="4.35"/><circle cx="686.17" cy="732.72" r="4.35"/><circle cx="676.97" cy="734.39" r="4.35"/><circle cx="663.92" cy="734.72" r="4.35"/><circle cx="643.52" cy="736.9" r="4.35"/><circle cx="645.19" cy="742.25" r="4.35"/><circle cx="652.38" cy="744.76" r="4.35"/><circle cx="670.28" cy="744.43" r="4.35"/><circle cx="676.47" cy="745.26" r="4.35"/><circle cx="643.52" cy="747.77" r="4.35"/><circle cx="677.81" cy="750.28" r="4.35"/><circle cx="663.59" cy="754.46" r="4.35"/><circle cx="668.61" cy="755.3" r="4.35"/><circle cx="685.34" cy="754.96" r="4.35"/><circle cx="673.63" cy="756.97" r="4.35"/><circle cx="658.57" cy="759.48" r="4.35"/><circle cx="643.52" cy="761.99" r="4.35"/><circle cx="647.7" cy="761.99" r="4.35"/><circle cx="676.13" cy="762.83" r="4.35"/><circle cx="661.92" cy="764.5" r="4.35"/><circle cx="666.1" cy="765.34" r="4.35"/><circle cx="687.01" cy="766.17" r="4.35"/><circle cx="686.17" cy="770.35" r="4.35"/><circle cx="672.29" cy="774.2" r="4.35"/><circle cx="687.84" cy="773.7" r="4.35"/><circle cx="690.35" cy="778.72" r="4.35"/><circle cx="643.85" cy="784.91" r="4.35"/><circle cx="648.53" cy="784.91" r="4.35"/><circle cx="670.28" cy="787.08" r="4.35"/><circle cx="684.5" cy="787.08" r="4.35"/><circle cx="664.43" cy="789.59" r="4.35"/><circle cx="686.17" cy="790.43" r="4.35"/><circle cx="644.85" cy="792.1" r="4.35"/><circle cx="661.08" cy="792.94" r="4.35"/><circle cx="666.1" cy="796.28" r="4.35"/><circle cx="687.84" cy="796.78" r="4.35"/><circle cx="659.41" cy="801.3" r="4.35"/><circle cx="677.31" cy="801.8" r="4.35"/><circle cx="657.73" cy="804.65" r="4.35"/><circle cx="663.59" cy="806.32" r="4.35"/><circle cx="678.64" cy="809.66" r="4.35"/><circle cx="687.84" cy="811.34" r="4.35"/><circle cx="661.08" cy="813.01" r="4.35"/><circle cx="666.1" cy="814.68" r="4.35"/><circle cx="682.83" cy="817.19" r="4.35"/><circle cx="663.59" cy="818.86" r="4.35"/><circle cx="673.63" cy="820.54" r="4.35"/><circle cx="645.19" cy="822.54" r="4.35"/><circle cx="665.26" cy="823.88" r="4.35"/><circle cx="686.17" cy="830.24" r="4.35"/><circle cx="651.88" cy="829.24" r="4.35"/><circle cx="663.59" cy="828.9" r="4.35"/><circle cx="671.95" cy="831.41" r="4.35"/><circle cx="687.01" cy="833.59" r="4.35"/><circle cx="660.24" cy="834.76" r="4.35"/><circle cx="646.86" cy="835.59" r="4.35"/><circle cx="676.13" cy="833.92" r="4.35"/><circle cx="648.87" cy="838.1" r="4.35"/><circle cx="679.48" cy="838.1" r="4.35"/><circle cx="687.34" cy="847.64" r="4.35"/><circle cx="643.85" cy="854.33" r="4.35"/><circle cx="654.39" cy="859.35" r="4.35"/><circle cx="657.73" cy="864.03" r="4.35"/><circle cx="677.81" cy="865.37" r="4.35"/><circle cx="690.69" cy="869.89" r="4.35"/><circle cx="643.85" cy="878.75" r="4.35"/><circle cx="686.17" cy="880.42" r="4.35"/><circle cx="690.35" cy="892.8" r="4.35"/><circle cx="687.84" cy="898.82" r="4.35"/><circle cx="651.38" cy="902" r="4.35"/><circle cx="673.96" cy="905.85" r="4.35"/><circle cx="691.69" cy="912.21" r="4.35"/><circle cx="678.64" cy="927.6" r="4.35"/></g>
<path d="M543.34 599.41V589.51H667.54V599.41" fill="none" stroke="#000" stroke-width="2.4" stroke-linecap="round" stroke-linejoin="round"/>
<text transform="translate(605.84 585.76) scale(1 1.125)" font-size="21.9" text-anchor="middle" letter-spacing="0.8">0.0056</text>
</g>
<g>
<rect x="76.67" y="1039.64" width="271.3" height="38.7" fill="#cbcbcb"/>
<text transform="translate(210.82 1067.94) scale(1 1.075)" font-size="24.7" text-anchor="middle">CD4 naive</text>
<text transform="translate(63.37 1193.02) scale(1 1.075)" font-size="20.6" text-anchor="end">0.02</text>
<text transform="translate(63.37 1316.99) scale(1 1.075)" font-size="20.6" text-anchor="end">0.01</text>
<text transform="translate(63.37 1440.97) scale(1 1.075)" font-size="20.6" text-anchor="end">0.00</text>
<path d="M69.37 1185.32H74.55M69.37 1309.29H74.55M69.37 1433.27H74.55M150.27 1455.96V1461.14M273.67 1455.96V1461.14M76.67 1076.74V1453.84H349.77" fill="none" stroke="#000" stroke-width="4.25"/>
<text transform="translate(150.27 1482.74) scale(1 1.04)" font-size="18.5" text-anchor="middle">HC</text>
<text transform="translate(274.27 1482.74) scale(1 1.04)" font-size="18.5" text-anchor="middle" letter-spacing="-0.5">LUAD</text>
<path d="M150.27 1124.34V1222.54M150.27 1309.26V1395.71M104.07 1222.54H196.47V1309.26H104.07ZM273.67 1185.81V1312.3M273.67 1420.4V1432.78M227.47 1312.3H319.87V1420.4H227.47Z" fill="none" stroke="#000" stroke-width="4.25" stroke-linejoin="round"/>
<path d="M104.07 1259.71H196.47M227.47 1370.97H319.87" fill="none" stroke="#000" stroke-width="8.5"/>
<g fill="#45a12b"><circle cx="173.23" cy="1122.62" r="4.35"/><circle cx="139.61" cy="1140.18" r="4.35"/><circle cx="126.73" cy="1145.7" r="4.35"/><circle cx="166.37" cy="1156.24" r="4.35"/><circle cx="150.98" cy="1181.5" r="4.35"/><circle cx="133.59" cy="1186.19" r="4.35"/><circle cx="174.07" cy="1190.37" r="4.35"/><circle cx="128.4" cy="1194.55" r="4.35"/><circle cx="135.09" cy="1199.57" r="4.35"/><circle cx="167.38" cy="1207.93" r="4.35"/><circle cx="144.79" cy="1210.11" r="4.35"/><circle cx="150.15" cy="1213.79" r="4.35"/><circle cx="135.43" cy="1220.14" r="4.35"/><circle cx="158.51" cy="1225.5" r="4.35"/><circle cx="172.4" cy="1233.02" r="4.35"/><circle cx="148.98" cy="1235.03" r="4.35"/><circle cx="171.56" cy="1238.04" r="4.35"/><circle cx="135.59" cy="1246.07" r="4.35"/><circle cx="141.78" cy="1245.24" r="4.35"/><circle cx="149.65" cy="1244.23" r="4.35"/><circle cx="158.01" cy="1245.9" r="4.35"/><circle cx="145.97" cy="1248.08" r="4.35"/><circle cx="127.23" cy="1258.12" r="4.35"/><circle cx="150.98" cy="1260.12" r="4.35"/><circle cx="168.88" cy="1260.12" r="4.35"/><circle cx="135.93" cy="1263.97" r="4.35"/><circle cx="141.78" cy="1262.8" r="4.35"/><circle cx="129.74" cy="1272.34" r="4.35"/><circle cx="141.45" cy="1280.36" r="4.35"/><circle cx="171.56" cy="1282.71" r="4.35"/><circle cx="136.76" cy="1293.75" r="4.35"/><circle cx="160.18" cy="1296.93" r="4.35"/><circle cx="169.89" cy="1299.1" r="4.35"/><circle cx="157.34" cy="1300.77" r="4.35"/><circle cx="150.98" cy="1305.79" r="4.35"/><circle cx="133.42" cy="1309.14" r="4.35"/><circle cx="138.1" cy="1310.48" r="4.35"/><circle cx="149.31" cy="1317.5" r="4.35"/><circle cx="126.23" cy="1325.86" r="4.35"/><circle cx="156.34" cy="1332.56" r="4.35"/><circle cx="166.04" cy="1332.05" r="4.35"/><circle cx="142.12" cy="1335.07" r="4.35"/><circle cx="138.44" cy="1338.41" r="4.35"/><circle cx="138.77" cy="1342.59" r="4.35"/><circle cx="174.74" cy="1374.38" r="4.35"/><circle cx="142.95" cy="1386.59" r="4.35"/><circle cx="153.99" cy="1391.94" r="4.35"/><circle cx="169.38" cy="1392.78" r="4.35"/></g>
<g fill="#d03323"><circle cx="297.35" cy="1109.24" r="4.35"/><circle cx="290.66" cy="1187.36" r="4.35"/><circle cx="254.86" cy="1199.07" r="4.35"/><circle cx="258.04" cy="1227.5" r="4.35"/><circle cx="290.16" cy="1237.21" r="4.35"/><circle cx="274.27" cy="1261.8" r="4.35"/><circle cx="257.71" cy="1268.99" r="4.35"/><circle cx="270.92" cy="1268.99" r="4.35"/><circle cx="286.98" cy="1269.83" r="4.35"/><circle cx="251.35" cy="1274.84" r="4.35"/><circle cx="280.29" cy="1275.68" r="4.35"/><circle cx="259.21" cy="1293.58" r="4.35"/><circle cx="283.47" cy="1297.76" r="4.35"/><circle cx="284.47" cy="1307.46" r="4.35"/><circle cx="270.09" cy="1309.47" r="4.35"/><circle cx="270.59" cy="1324.53" r="4.35"/><circle cx="273.6" cy="1332.56" r="4.35"/><circle cx="265.9" cy="1337.24" r="4.35"/><circle cx="292" cy="1337.07" r="4.35"/><circle cx="253.86" cy="1342.59" r="4.35"/><circle cx="269.75" cy="1345.94" r="4.35"/><circle cx="265.57" cy="1345.1" r="4.35"/><circle cx="262.56" cy="1350.12" r="4.35"/><circle cx="268.08" cy="1355.64" r="4.35"/><circle cx="278.12" cy="1356.48" r="4.35"/><circle cx="275.61" cy="1358.99" r="4.35"/><circle cx="297.35" cy="1357.15" r="4.35"/><circle cx="298.19" cy="1367.35" r="4.35"/><circle cx="264.23" cy="1369.86" r="4.35"/><circle cx="289.49" cy="1378.22" r="4.35"/><circle cx="293.17" cy="1381.07" r="4.35"/><circle cx="254.7" cy="1382.74" r="4.35"/><circle cx="265.9" cy="1382.24" r="4.35"/><circle cx="274.77" cy="1381.4" r="4.35"/><circle cx="268.08" cy="1391.94" r="4.35"/><circle cx="252.69" cy="1395.79" r="4.35"/><circle cx="273.6" cy="1395.79" r="4.35"/><circle cx="269.25" cy="1404.15" r="4.35"/><circle cx="272.26" cy="1409.84" r="4.35"/><circle cx="280.29" cy="1410.34" r="4.35"/><circle cx="285.98" cy="1409.17" r="4.35"/><circle cx="269.75" cy="1418.71" r="4.35"/><circle cx="260.55" cy="1424.56" r="4.35"/><circle cx="263.9" cy="1429.58" r="4.35"/><circle cx="253.02" cy="1431.25" r="4.35"/><circle cx="255.53" cy="1434.6" r="4.35"/><circle cx="264.73" cy="1436.27" r="4.35"/><circle cx="278.12" cy="1433.76" r="4.35"/><circle cx="283.97" cy="1429.58" r="4.35"/><circle cx="287.82" cy="1430.41" r="4.35"/><circle cx="292.34" cy="1434.26" r="4.35"/><circle cx="298.19" cy="1429.24" r="4.35"/><circle cx="298.69" cy="1432.92" r="4.35"/></g>
<path d="M150.27 1104.84V1094.84H273.67V1104.84" fill="none" stroke="#000" stroke-width="2.4" stroke-linecap="round" stroke-linejoin="round"/>
<text transform="translate(210.16 1092.14) scale(1 1.125)" font-size="21.4" text-anchor="middle" letter-spacing="0.78">4.9e−09</text>
</g>
<g>
<rect x="471.02" y="1039.64" width="271.3" height="38.7" fill="#cbcbcb"/>
<text transform="translate(610.27 1067.94) scale(1 1.075)" font-size="24.7" text-anchor="middle">Exhausted</text>
<text transform="translate(457.72 1098.58) scale(1 1.075)" font-size="20.6" text-anchor="end">0.05</text>
<text transform="translate(457.72 1167.22) scale(1 1.075)" font-size="20.6" text-anchor="end">0.04</text>
<text transform="translate(457.72 1235.85) scale(1 1.075)" font-size="20.6" text-anchor="end">0.03</text>
<text transform="translate(457.72 1304.49) scale(1 1.075)" font-size="20.6" text-anchor="end">0.02</text>
<text transform="translate(457.72 1373.13) scale(1 1.075)" font-size="20.6" text-anchor="end">0.01</text>
<text transform="translate(457.72 1441.77) scale(1 1.075)" font-size="20.6" text-anchor="end">0.00</text>
<path d="M463.72 1090.88H468.9M463.72 1159.52H468.9M463.72 1228.15H468.9M463.72 1296.79H468.9M463.72 1365.43H468.9M463.72 1434.07H468.9M544.62 1455.96V1461.14M668.02 1455.96V1461.14M471.02 1076.74V1453.84H744.12" fill="none" stroke="#000" stroke-width="4.25"/>
<text transform="translate(544.62 1482.74) scale(1 1.04)" font-size="18.5" text-anchor="middle">HC</text>
<text transform="translate(668.62 1482.74) scale(1 1.04)" font-size="18.5" text-anchor="middle" letter-spacing="-0.5">LUAD</text>
<path d="M544.62 1257.08V1331.17M544.62 1386.06V1433.87M498.42 1331.17H590.82V1386.06H498.42ZM668.02 1111.79V1214.53M668.02 1324.15V1433.87M621.82 1214.53H714.22V1324.15H621.82Z" fill="none" stroke="#000" stroke-width="4.25" stroke-linejoin="round"/>
<path d="M498.42 1358.79H590.82M621.82 1276.24H714.22" fill="none" stroke="#000" stroke-width="8.5"/>
<g fill="#45a12b"><circle cx="552.34" cy="1181.17" r="4.35"/><circle cx="533.77" cy="1185.68" r="4.35"/><circle cx="558.2" cy="1220.14" r="4.35"/><circle cx="544.65" cy="1256.44" r="4.35"/><circle cx="552.34" cy="1261.13" r="4.35"/><circle cx="533.94" cy="1271.83" r="4.35"/><circle cx="544.14" cy="1291.24" r="4.35"/><circle cx="527.58" cy="1302.45" r="4.35"/><circle cx="536.78" cy="1308.63" r="4.35"/><circle cx="537.12" cy="1317.5" r="4.35"/><circle cx="562.71" cy="1315.49" r="4.35"/><circle cx="566.39" cy="1322.85" r="4.35"/><circle cx="565.22" cy="1331.72" r="4.35"/><circle cx="533.1" cy="1336.24" r="4.35"/><circle cx="549.33" cy="1342.59" r="4.35"/><circle cx="555.18" cy="1342.93" r="4.35"/><circle cx="546.82" cy="1345.1" r="4.35"/><circle cx="558.53" cy="1346.77" r="4.35"/><circle cx="568.23" cy="1345.1" r="4.35"/><circle cx="528.42" cy="1352.3" r="4.35"/><circle cx="548.16" cy="1353.47" r="4.35"/><circle cx="531.76" cy="1354.8" r="4.35"/><circle cx="560.7" cy="1353.97" r="4.35"/><circle cx="546.82" cy="1355.98" r="4.35"/><circle cx="550.17" cy="1358.48" r="4.35"/><circle cx="555.18" cy="1359.82" r="4.35"/><circle cx="531.76" cy="1363.17" r="4.35"/><circle cx="526.75" cy="1364.34" r="4.35"/><circle cx="565.22" cy="1363" r="4.35"/><circle cx="556.86" cy="1363.5" r="4.35"/><circle cx="525.91" cy="1367.35" r="4.35"/><circle cx="532.6" cy="1372.7" r="4.35"/><circle cx="520.56" cy="1377.72" r="4.35"/><circle cx="567.73" cy="1377.39" r="4.35"/><circle cx="528.08" cy="1385.25" r="4.35"/><circle cx="554.35" cy="1383.91" r="4.35"/><circle cx="533.1" cy="1393.61" r="4.35"/><circle cx="546.32" cy="1392.78" r="4.35"/><circle cx="554.35" cy="1399.8" r="4.35"/><circle cx="561.88" cy="1398.97" r="4.35"/><circle cx="540.13" cy="1408.67" r="4.35"/><circle cx="549.33" cy="1418.37" r="4.35"/><circle cx="525.58" cy="1420.71" r="4.35"/><circle cx="547.15" cy="1431.75" r="4.35"/><circle cx="530.93" cy="1434.6" r="4.35"/><circle cx="536.78" cy="1434.93" r="4.35"/><circle cx="550.5" cy="1435.94" r="4.35"/></g>
<g fill="#d03323"><circle cx="684.49" cy="1110.07" r="4.35"/><circle cx="673.62" cy="1125.63" r="4.35"/><circle cx="652.21" cy="1143.53" r="4.35"/><circle cx="690.68" cy="1150.22" r="4.35"/><circle cx="646.35" cy="1160.59" r="4.35"/><circle cx="653.54" cy="1167.79" r="4.35"/><circle cx="645.18" cy="1172.3" r="4.35"/><circle cx="675.63" cy="1179.16" r="4.35"/><circle cx="646.35" cy="1186.69" r="4.35"/><circle cx="656.89" cy="1192.54" r="4.35"/><circle cx="655.55" cy="1200.4" r="4.35"/><circle cx="687" cy="1200.07" r="4.35"/><circle cx="681.48" cy="1202.41" r="4.35"/><circle cx="649.2" cy="1213.29" r="4.35"/><circle cx="681.48" cy="1214.62" r="4.35"/><circle cx="687.67" cy="1215.79" r="4.35"/><circle cx="687.34" cy="1220.98" r="4.35"/><circle cx="660.4" cy="1228.84" r="4.35"/><circle cx="645.18" cy="1243.9" r="4.35"/><circle cx="680.14" cy="1242.56" r="4.35"/><circle cx="658.56" cy="1246.74" r="4.35"/><circle cx="678.47" cy="1246.74" r="4.35"/><circle cx="666.43" cy="1251.43" r="4.35"/><circle cx="661.41" cy="1258.12" r="4.35"/><circle cx="673.12" cy="1263.64" r="4.35"/><circle cx="692.69" cy="1268.66" r="4.35"/><circle cx="648.53" cy="1269.83" r="4.35"/><circle cx="671.95" cy="1274.01" r="4.35"/><circle cx="675.63" cy="1275.68" r="4.35"/><circle cx="650.2" cy="1278.19" r="4.35"/><circle cx="668.93" cy="1280.7" r="4.35"/><circle cx="663.92" cy="1282.37" r="4.35"/><circle cx="678.97" cy="1284.55" r="4.35"/><circle cx="643.84" cy="1288.23" r="4.35"/><circle cx="648.86" cy="1289.57" r="4.35"/><circle cx="652.71" cy="1298.6" r="4.35"/><circle cx="647.52" cy="1303.28" r="4.35"/><circle cx="678.47" cy="1303.28" r="4.35"/><circle cx="685.66" cy="1305.79" r="4.35"/><circle cx="684.49" cy="1309.97" r="4.35"/><circle cx="647.52" cy="1324.53" r="4.35"/><circle cx="661.74" cy="1324.53" r="4.35"/><circle cx="667.26" cy="1342.93" r="4.35"/><circle cx="658.9" cy="1347.61" r="4.35"/><circle cx="671.44" cy="1352.3" r="4.35"/><circle cx="664.75" cy="1354.3" r="4.35"/><circle cx="660.07" cy="1358.15" r="4.35"/><circle cx="648.02" cy="1383.24" r="4.35"/><circle cx="679.31" cy="1385.75" r="4.35"/><circle cx="645.18" cy="1390.27" r="4.35"/><circle cx="683.15" cy="1401.48" r="4.35"/><circle cx="682.82" cy="1405.32" r="4.35"/><circle cx="650.03" cy="1436.27" r="4.35"/></g>
<path d="M544.62 1104.84V1094.84H668.02V1104.84" fill="none" stroke="#000" stroke-width="2.4" stroke-linecap="round" stroke-linejoin="round"/>
<text transform="translate(606.71 1092.14) scale(1 1.125)" font-size="21.4" text-anchor="middle" letter-spacing="0.78">8.9e−08</text>
</g>
<g>
<rect x="818.99" y="1039.64" width="271.3" height="38.7" fill="#cbcbcb"/>
<text transform="translate(955.94 1067.94) scale(1 1.075)" font-size="24.7" text-anchor="middle">Tr1</text>
<text transform="translate(805.69 1101.73) scale(1 1.075)" font-size="20.6" text-anchor="end">0.020</text>
<text transform="translate(805.69 1185.64) scale(1 1.075)" font-size="20.6" text-anchor="end">0.015</text>
<text transform="translate(805.69 1269.54) scale(1 1.075)" font-size="20.6" text-anchor="end">0.010</text>
<text transform="translate(805.69 1353.45) scale(1 1.075)" font-size="20.6" text-anchor="end">0.005</text>
<text transform="translate(805.69 1437.36) scale(1 1.075)" font-size="20.6" text-anchor="end">0.000</text>
<path d="M811.69 1094.03H816.86M811.69 1177.94H816.86M811.69 1261.84H816.86M811.69 1345.75H816.86M811.69 1429.66H816.86M892.59 1455.96V1461.14M1015.99 1455.96V1461.14M818.99 1076.74V1453.84H1092.09" fill="none" stroke="#000" stroke-width="4.25"/>
<text transform="translate(892.59 1482.74) scale(1 1.04)" font-size="18.5" text-anchor="middle">HC</text>
<text transform="translate(1016.59 1482.74) scale(1 1.04)" font-size="18.5" text-anchor="middle" letter-spacing="-0.5">LUAD</text>
<path d="M892.59 1329.22V1379.61M892.59 1429.82V1429.66M846.39 1379.61H938.79V1429.82H846.39ZM1015.99 1178.31V1278.88M1015.99 1362.64V1412.89M969.79 1278.88H1062.19V1362.64H969.79Z" fill="none" stroke="#000" stroke-width="4.25" stroke-linejoin="round"/>
<path d="M846.39 1413.09H938.79M969.79 1312.59H1062.19" fill="none" stroke="#000" stroke-width="8.5"/>
<g fill="#45a12b"><circle cx="883.61" cy="1327.54" r="4.35"/><circle cx="909.54" cy="1330.05" r="4.35"/><circle cx="914.89" cy="1332.05" r="4.35"/><circle cx="868.06" cy="1345.6" r="4.35"/><circle cx="907.37" cy="1349.28" r="4.35"/><circle cx="904.86" cy="1352.3" r="4.35"/><circle cx="870.56" cy="1362.67" r="4.35"/><circle cx="896.16" cy="1365.18" r="4.35"/><circle cx="883.95" cy="1368.52" r="4.35"/><circle cx="905.19" cy="1373.87" r="4.35"/><circle cx="914.39" cy="1378.06" r="4.35"/><circle cx="877.76" cy="1380.57" r="4.35"/><circle cx="880.6" cy="1381.9" r="4.35"/><circle cx="889.3" cy="1392.28" r="4.35"/><circle cx="901.51" cy="1391.1" r="4.35"/><circle cx="903.18" cy="1394.78" r="4.35"/><circle cx="899" cy="1397.46" r="4.35"/><circle cx="912.72" cy="1400.81" r="4.35"/><circle cx="887.79" cy="1407.5" r="4.35"/><circle cx="873.07" cy="1412.85" r="4.35"/><circle cx="877.76" cy="1416.2" r="4.35"/><circle cx="906.2" cy="1414.86" r="4.35"/><circle cx="910.71" cy="1417.03" r="4.35"/><circle cx="915.23" cy="1418.2" r="4.35"/><circle cx="876.08" cy="1426.57" r="4.35"/><circle cx="882.27" cy="1425.4" r="4.35"/><circle cx="887.29" cy="1425.9" r="4.35"/><circle cx="899.84" cy="1426.57" r="4.35"/><circle cx="904.86" cy="1426.23" r="4.35"/><circle cx="909.88" cy="1427.07" r="4.35"/><circle cx="868.89" cy="1431.25" r="4.35"/><circle cx="884.78" cy="1430.41" r="4.35"/><circle cx="892.31" cy="1430.41" r="4.35"/><circle cx="897.33" cy="1429.58" r="4.35"/><circle cx="911.55" cy="1430.41" r="4.35"/><circle cx="880.6" cy="1434.6" r="4.35"/><circle cx="887.29" cy="1433.76" r="4.35"/><circle cx="893.15" cy="1432.92" r="4.35"/><circle cx="902.35" cy="1432.92" r="4.35"/><circle cx="868.06" cy="1436.27" r="4.35"/><circle cx="879.76" cy="1435.94" r="4.35"/><circle cx="903.18" cy="1435.43" r="4.35"/><circle cx="910.71" cy="1434.6" r="4.35"/></g>
<g fill="#d03323"><circle cx="1036.51" cy="1111.24" r="4.35"/><circle cx="1002.38" cy="1179.49" r="4.35"/><circle cx="991.34" cy="1212.95" r="4.35"/><circle cx="1016.1" cy="1231.02" r="4.35"/><circle cx="1025.63" cy="1241.89" r="4.35"/><circle cx="1011.92" cy="1244.23" r="4.35"/><circle cx="995.19" cy="1250.59" r="4.35"/><circle cx="1024.13" cy="1251.76" r="4.35"/><circle cx="995.52" cy="1258.45" r="4.35"/><circle cx="1011.08" cy="1260.63" r="4.35"/><circle cx="1007.73" cy="1262.3" r="4.35"/><circle cx="1029.81" cy="1260.96" r="4.35"/><circle cx="996.36" cy="1266.81" r="4.35"/><circle cx="1011.92" cy="1274.84" r="4.35"/><circle cx="1022.45" cy="1279.03" r="4.35"/><circle cx="1004.39" cy="1284.88" r="4.35"/><circle cx="1014.43" cy="1284.88" r="4.35"/><circle cx="1008.07" cy="1289.06" r="4.35"/><circle cx="1024.96" cy="1296.59" r="4.35"/><circle cx="1030.32" cy="1297.93" r="4.35"/><circle cx="1035.34" cy="1300.44" r="4.35"/><circle cx="1013.25" cy="1301.11" r="4.35"/><circle cx="998.53" cy="1301.94" r="4.35"/><circle cx="1013.59" cy="1306.96" r="4.35"/><circle cx="1028.31" cy="1310.31" r="4.35"/><circle cx="1037.84" cy="1309.97" r="4.35"/><circle cx="994.85" cy="1313.32" r="4.35"/><circle cx="1021.12" cy="1313.82" r="4.35"/><circle cx="1001.04" cy="1314.49" r="4.35"/><circle cx="1037.01" cy="1313.82" r="4.35"/><circle cx="1005.56" cy="1317.5" r="4.35"/><circle cx="1009.91" cy="1322.85" r="4.35"/><circle cx="1019.95" cy="1323.36" r="4.35"/><circle cx="1031.99" cy="1322.85" r="4.35"/><circle cx="998.53" cy="1330.88" r="4.35"/><circle cx="1001.88" cy="1331.72" r="4.35"/><circle cx="1015.6" cy="1335.9" r="4.35"/><circle cx="1023.63" cy="1339.75" r="4.35"/><circle cx="1025.3" cy="1342.26" r="4.35"/><circle cx="1018.94" cy="1345.44" r="4.35"/><circle cx="1011.08" cy="1358.82" r="4.35"/><circle cx="1018.94" cy="1360.99" r="4.35"/><circle cx="1006.9" cy="1364.34" r="4.35"/><circle cx="1012.25" cy="1368.52" r="4.35"/><circle cx="1006.06" cy="1373.21" r="4.35"/><circle cx="1008.57" cy="1378.56" r="4.35"/><circle cx="1040.02" cy="1378.56" r="4.35"/><circle cx="1040.02" cy="1382.41" r="4.35"/><circle cx="1017.77" cy="1382.41" r="4.35"/><circle cx="1028.64" cy="1391.94" r="4.35"/><circle cx="1004.89" cy="1393.95" r="4.35"/><circle cx="1020.78" cy="1396.96" r="4.35"/><circle cx="1011.08" cy="1406.66" r="4.35"/><circle cx="993.52" cy="1407.83" r="4.35"/><circle cx="999.04" cy="1419.21" r="4.35"/><circle cx="1007.73" cy="1419.54" r="4.35"/></g>
<path d="M892.59 1104.84V1094.84H1015.99V1104.84" fill="none" stroke="#000" stroke-width="2.4" stroke-linecap="round" stroke-linejoin="round"/>
<text transform="translate(954.68 1092.14) scale(1 1.125)" font-size="21.4" text-anchor="middle" letter-spacing="0.78">1e−13</text>
</g>
<g>
<rect x="1219.49" y="1041.08" width="271.3" height="38.7" fill="#cbcbcb"/>
<text transform="translate(1356.24 1069.38) scale(1 1.075)" font-size="24.7" text-anchor="middle">Th1</text>
<text transform="translate(1206.19 1108.79) scale(1 1.075)" font-size="20.6" text-anchor="end">0.08</text>
<text transform="translate(1206.19 1192.76) scale(1 1.075)" font-size="20.6" text-anchor="end">0.06</text>
<text transform="translate(1206.19 1276.72) scale(1 1.075)" font-size="20.6" text-anchor="end">0.04</text>
<text transform="translate(1206.19 1360.68) scale(1 1.075)" font-size="20.6" text-anchor="end">0.02</text>
<text transform="translate(1206.19 1444.65) scale(1 1.075)" font-size="20.6" text-anchor="end">0.00</text>
<path d="M1212.19 1101.09H1217.37M1212.19 1185.06H1217.37M1212.19 1269.02H1217.37M1212.19 1352.98H1217.37M1212.19 1436.95H1217.37M1293.09 1457.41V1462.58M1416.49 1457.41V1462.58M1219.49 1078.18V1455.28H1492.59" fill="none" stroke="#000" stroke-width="4.25"/>
<text transform="translate(1293.09 1484.18) scale(1 1.04)" font-size="18.5" text-anchor="middle">HC</text>
<text transform="translate(1417.09 1484.18) scale(1 1.04)" font-size="18.5" text-anchor="middle" letter-spacing="-0.5">LUAD</text>
<path d="M1293.09 1327.81V1366.1M1293.09 1395.57V1436.7M1246.89 1366.1H1339.29V1395.57H1246.89ZM1416.49 1113.7V1207.02M1416.49 1309.43V1379.02M1370.29 1207.02H1462.69V1309.43H1370.29Z" fill="none" stroke="#000" stroke-width="4.25" stroke-linejoin="round"/>
<path d="M1246.89 1383.39H1339.29M1370.29 1267.22H1462.69" fill="none" stroke="#000" stroke-width="8.5"/>
<g fill="#45a12b"><circle cx="1294.82" cy="1327.53" r="4.35"/><circle cx="1288.97" cy="1331.21" r="4.35"/><circle cx="1316.23" cy="1332.88" r="4.35"/><circle cx="1310.71" cy="1338.24" r="4.35"/><circle cx="1316.23" cy="1340.08" r="4.35"/><circle cx="1301.51" cy="1346.27" r="4.35"/><circle cx="1269.73" cy="1352.12" r="4.35"/><circle cx="1317.4" cy="1352.96" r="4.35"/><circle cx="1301.18" cy="1354.96" r="4.35"/><circle cx="1273.91" cy="1360.15" r="4.35"/><circle cx="1271.07" cy="1362.49" r="4.35"/><circle cx="1287.79" cy="1362.16" r="4.35"/><circle cx="1310.71" cy="1367.18" r="4.35"/><circle cx="1270.56" cy="1368.85" r="4.35"/><circle cx="1292.31" cy="1368.01" r="4.35"/><circle cx="1283.95" cy="1371.36" r="4.35"/><circle cx="1297.33" cy="1370.52" r="4.35"/><circle cx="1304.86" cy="1370.52" r="4.35"/><circle cx="1281.44" cy="1374.7" r="4.35"/><circle cx="1303.18" cy="1375.54" r="4.35"/><circle cx="1274.75" cy="1378.05" r="4.35"/><circle cx="1305.69" cy="1378.89" r="4.35"/><circle cx="1300.67" cy="1381.39" r="4.35"/><circle cx="1278.09" cy="1383.07" r="4.35"/><circle cx="1309.04" cy="1383.9" r="4.35"/><circle cx="1290.14" cy="1385.24" r="4.35"/><circle cx="1271.07" cy="1387.25" r="4.35"/><circle cx="1306.53" cy="1386.41" r="4.35"/><circle cx="1310.71" cy="1389.76" r="4.35"/><circle cx="1280.6" cy="1392.27" r="4.35"/><circle cx="1293.98" cy="1395.61" r="4.35"/><circle cx="1298.17" cy="1395.61" r="4.35"/><circle cx="1275.58" cy="1403.98" r="4.35"/><circle cx="1283.11" cy="1403.98" r="4.35"/><circle cx="1302.35" cy="1403.98" r="4.35"/><circle cx="1287.29" cy="1406.49" r="4.35"/><circle cx="1293.15" cy="1408.49" r="4.35"/><circle cx="1306.53" cy="1409" r="4.35"/><circle cx="1274.41" cy="1411.5" r="4.35"/><circle cx="1279.76" cy="1413.18" r="4.35"/><circle cx="1284.28" cy="1427.9" r="4.35"/><circle cx="1300.34" cy="1434.09" r="4.35"/><circle cx="1291.47" cy="1436.93" r="4.35"/><circle cx="1310.38" cy="1438.27" r="4.35"/></g>
<g fill="#d03323"><circle cx="1435.34" cy="1113.24" r="4.35"/><circle cx="1401.88" cy="1130.14" r="4.35"/><circle cx="1396.02" cy="1132.65" r="4.35"/><circle cx="1425.3" cy="1158.41" r="4.35"/><circle cx="1421.95" cy="1168.28" r="4.35"/><circle cx="1411.92" cy="1181.49" r="4.35"/><circle cx="1392.18" cy="1183.67" r="4.35"/><circle cx="1416.93" cy="1185.34" r="4.35"/><circle cx="1399.87" cy="1188.69" r="4.35"/><circle cx="1416.1" cy="1189.36" r="4.35"/><circle cx="1422.29" cy="1194.54" r="4.35"/><circle cx="1401.04" cy="1197.89" r="4.35"/><circle cx="1429.48" cy="1202.4" r="4.35"/><circle cx="1406.9" cy="1205.75" r="4.35"/><circle cx="1432.83" cy="1209.93" r="4.35"/><circle cx="1408.24" cy="1216.96" r="4.35"/><circle cx="1405.56" cy="1230.01" r="4.35"/><circle cx="1396.02" cy="1234.19" r="4.35"/><circle cx="1392.18" cy="1240.04" r="4.35"/><circle cx="1429.48" cy="1245.9" r="4.35"/><circle cx="1410.24" cy="1247.9" r="4.35"/><circle cx="1427.81" cy="1249.24" r="4.35"/><circle cx="1413.09" cy="1254.6" r="4.35"/><circle cx="1422.29" cy="1255.93" r="4.35"/><circle cx="1416.1" cy="1263.46" r="4.35"/><circle cx="1422.79" cy="1263.46" r="4.35"/><circle cx="1408.57" cy="1265.97" r="4.35"/><circle cx="1392.18" cy="1267.98" r="4.35"/><circle cx="1398.2" cy="1268.98" r="4.35"/><circle cx="1422.45" cy="1270.15" r="4.35"/><circle cx="1401.88" cy="1277.18" r="4.35"/><circle cx="1429.48" cy="1278.85" r="4.35"/><circle cx="1432.32" cy="1286.88" r="4.35"/><circle cx="1404.05" cy="1288.89" r="4.35"/><circle cx="1408.07" cy="1296.92" r="4.35"/><circle cx="1416.93" cy="1295.75" r="4.35"/><circle cx="1426.47" cy="1295.25" r="4.35"/><circle cx="1440.35" cy="1301.6" r="4.35"/><circle cx="1426.13" cy="1304.45" r="4.35"/><circle cx="1433.33" cy="1309.46" r="4.35"/><circle cx="1434.5" cy="1315.32" r="4.35"/><circle cx="1423.63" cy="1318.66" r="4.35"/><circle cx="1430.32" cy="1317.83" r="4.35"/><circle cx="1437.84" cy="1319.17" r="4.35"/><circle cx="1400.21" cy="1322.34" r="4.35"/><circle cx="1415.26" cy="1323.68" r="4.35"/><circle cx="1434.5" cy="1323.68" r="4.35"/><circle cx="1396.02" cy="1327.86" r="4.35"/><circle cx="1425.8" cy="1326.53" r="4.35"/><circle cx="1404.05" cy="1344.09" r="4.35"/><circle cx="1401.88" cy="1367.68" r="4.35"/><circle cx="1408.24" cy="1366.67" r="4.35"/><circle cx="1415.6" cy="1378.89" r="4.35"/><circle cx="1441.19" cy="1384.74" r="4.35"/></g>
<path d="M1293.09 1106.28V1096.28H1416.49V1106.28" fill="none" stroke="#000" stroke-width="2.4" stroke-linecap="round" stroke-linejoin="round"/>
<text transform="translate(1355.18 1093.58) scale(1 1.125)" font-size="21.4" text-anchor="middle" letter-spacing="0.78">2.22e−16</text>
</g>
<g>
<rect x="1551.47" y="1040.8" width="271.3" height="38.7" fill="#cbcbcb"/>
<text transform="translate(1690.52 1069.1) scale(1 1.075)" font-size="24.7" text-anchor="middle">Effector memory</text>
<text transform="translate(1538.17 1119.76) scale(1 1.075)" font-size="20.6" text-anchor="end">0.015</text>
<text transform="translate(1538.17 1225.45) scale(1 1.075)" font-size="20.6" text-anchor="end">0.010</text>
<text transform="translate(1538.17 1331.14) scale(1 1.075)" font-size="20.6" text-anchor="end">0.005</text>
<text transform="translate(1538.17 1436.84) scale(1 1.075)" font-size="20.6" text-anchor="end">0.000</text>
<path d="M1544.17 1112.06H1549.35M1544.17 1217.75H1549.35M1544.17 1323.44H1549.35M1544.17 1429.14H1549.35M1625.07 1457.12V1462.3M1748.47 1457.12V1462.3M1551.47 1077.9V1455H1824.57" fill="none" stroke="#000" stroke-width="4.25"/>
<text transform="translate(1625.07 1483.9) scale(1 1.04)" font-size="18.5" text-anchor="middle">HC</text>
<text transform="translate(1749.07 1483.9) scale(1 1.04)" font-size="18.5" text-anchor="middle" letter-spacing="-0.5">LUAD</text>
<path d="M1625.07 1323.47V1387.12M1625.07 1429.95V1429.95M1578.87 1387.12H1671.27V1429.95H1578.87ZM1748.47 1112.84V1286.73M1748.47 1429.95V1429.95M1702.27 1286.73H1794.67V1429.95H1702.27Z" fill="none" stroke="#000" stroke-width="4.25" stroke-linejoin="round"/>
<path d="M1578.87 1429.08H1671.27M1702.27 1397.54H1794.67" fill="none" stroke="#000" stroke-width="8.5"/>
<g fill="#45a12b"><circle cx="1629.5" cy="1236.2" r="4.35"/><circle cx="1603.74" cy="1252.92" r="4.35"/><circle cx="1616.28" cy="1257.11" r="4.35"/><circle cx="1609.76" cy="1279.86" r="4.35"/><circle cx="1641.37" cy="1286.88" r="4.35"/><circle cx="1603.4" cy="1294.41" r="4.35"/><circle cx="1648.23" cy="1306.45" r="4.35"/><circle cx="1610.43" cy="1317.49" r="4.35"/><circle cx="1624.14" cy="1347.44" r="4.35"/><circle cx="1642.88" cy="1359.15" r="4.35"/><circle cx="1608.59" cy="1379.72" r="4.35"/><circle cx="1633.51" cy="1382.57" r="4.35"/><circle cx="1646.89" cy="1382.57" r="4.35"/><circle cx="1618.46" cy="1389.26" r="4.35"/><circle cx="1637.86" cy="1400.13" r="4.35"/><circle cx="1609.26" cy="1402.64" r="4.35"/><circle cx="1603.74" cy="1408.16" r="4.35"/><circle cx="1618.12" cy="1405.98" r="4.35"/><circle cx="1628.16" cy="1416.02" r="4.35"/><circle cx="1620.63" cy="1421.21" r="4.35"/><circle cx="1604.74" cy="1422.38" r="4.35"/><circle cx="1625.15" cy="1424.05" r="4.35"/><circle cx="1646.56" cy="1424.55" r="4.35"/><circle cx="1635.18" cy="1425.72" r="4.35"/><circle cx="1641.04" cy="1426.23" r="4.35"/><circle cx="1603.07" cy="1427.4" r="4.35"/><circle cx="1618.46" cy="1427.4" r="4.35"/><circle cx="1629.33" cy="1428.23" r="4.35"/><circle cx="1606.75" cy="1429.91" r="4.35"/><circle cx="1644.38" cy="1430.24" r="4.35"/><circle cx="1649.4" cy="1431.58" r="4.35"/><circle cx="1610.93" cy="1432.41" r="4.35"/><circle cx="1617.62" cy="1432.41" r="4.35"/><circle cx="1602.56" cy="1436.6" r="4.35"/><circle cx="1610.09" cy="1436.6" r="4.35"/><circle cx="1623.81" cy="1437.43" r="4.35"/></g>
<g fill="#d03323"><circle cx="1745.92" cy="1120.44" r="4.35"/><circle cx="1771.52" cy="1148.88" r="4.35"/><circle cx="1727.02" cy="1168.61" r="4.35"/><circle cx="1760.98" cy="1192.37" r="4.35"/><circle cx="1770.18" cy="1192.37" r="4.35"/><circle cx="1772.35" cy="1201.57" r="4.35"/><circle cx="1729.03" cy="1216.29" r="4.35"/><circle cx="1756.46" cy="1221.64" r="4.35"/><circle cx="1751.11" cy="1225.82" r="4.35"/><circle cx="1759.47" cy="1225.49" r="4.35"/><circle cx="1759.47" cy="1234.52" r="4.35"/><circle cx="1729.2" cy="1237.2" r="4.35"/><circle cx="1762.65" cy="1253.93" r="4.35"/><circle cx="1729.03" cy="1278.18" r="4.35"/><circle cx="1760.64" cy="1278.52" r="4.35"/><circle cx="1764.49" cy="1298.93" r="4.35"/><circle cx="1762.32" cy="1305.62" r="4.35"/><circle cx="1753.95" cy="1317.49" r="4.35"/><circle cx="1733.88" cy="1339.57" r="4.35"/><circle cx="1727.52" cy="1343.76" r="4.35"/><circle cx="1745.59" cy="1342.59" r="4.35"/><circle cx="1757.63" cy="1366.84" r="4.35"/><circle cx="1734.38" cy="1369.68" r="4.35"/><circle cx="1728.53" cy="1372.19" r="4.35"/><circle cx="1739.73" cy="1372.7" r="4.35"/><circle cx="1734.72" cy="1379.39" r="4.35"/><circle cx="1736.89" cy="1392.6" r="4.35"/><circle cx="1748.6" cy="1393.1" r="4.35"/><circle cx="1769.01" cy="1395.11" r="4.35"/><circle cx="1752.78" cy="1403.48" r="4.35"/><circle cx="1728.53" cy="1407.32" r="4.35"/><circle cx="1736.05" cy="1408.49" r="4.35"/><circle cx="1753.95" cy="1409.83" r="4.35"/><circle cx="1759.81" cy="1412.84" r="4.35"/><circle cx="1728.86" cy="1422.88" r="4.35"/><circle cx="1741.41" cy="1424.05" r="4.35"/><circle cx="1749.77" cy="1424.05" r="4.35"/><circle cx="1770.68" cy="1423.55" r="4.35"/><circle cx="1759.81" cy="1425.72" r="4.35"/><circle cx="1765.66" cy="1426.56" r="4.35"/><circle cx="1735.55" cy="1427.4" r="4.35"/><circle cx="1773.19" cy="1426.56" r="4.35"/><circle cx="1744.75" cy="1429.07" r="4.35"/><circle cx="1752.28" cy="1429.91" r="4.35"/><circle cx="1770.68" cy="1432.41" r="4.35"/><circle cx="1732.21" cy="1433.25" r="4.35"/><circle cx="1738.9" cy="1434.09" r="4.35"/><circle cx="1753.12" cy="1434.92" r="4.35"/><circle cx="1729.7" cy="1436.26" r="4.35"/><circle cx="1747.26" cy="1437.43" r="4.35"/></g>
<path d="M1625.07 1106V1096H1748.47V1106" fill="none" stroke="#000" stroke-width="2.4" stroke-linecap="round" stroke-linejoin="round"/>
<text transform="translate(1687.16 1093.3) scale(1 1.125)" font-size="21.4" text-anchor="middle" letter-spacing="0.78">0.011</text>
</g>
<g>
<rect x="67.12" y="1534.39" width="271.3" height="38.7" fill="#cbcbcb"/>
<text transform="translate(202.77 1562.69) scale(1 1.075)" font-size="24.7" text-anchor="middle">DC</text>
<text transform="translate(53.82 1652.73) scale(1 1.075)" font-size="20.6" text-anchor="end">0.03</text>
<text transform="translate(53.82 1748.04) scale(1 1.075)" font-size="20.6" text-anchor="end">0.02</text>
<text transform="translate(53.82 1843.35) scale(1 1.075)" font-size="20.6" text-anchor="end">0.01</text>
<text transform="translate(53.82 1938.65) scale(1 1.075)" font-size="20.6" text-anchor="end">0.00</text>
<path d="M59.82 1645.03H65M59.82 1740.34H65M59.82 1835.65H65M59.82 1930.95H65M140.72 1950.72V1955.89M264.12 1950.72V1955.89M67.12 1571.49V1948.59H340.22" fill="none" stroke="#000" stroke-width="4.25"/>
<text transform="translate(140.72 1977.49) scale(1 1.04)" font-size="18.5" text-anchor="middle">HC</text>
<text transform="translate(264.72 1977.49) scale(1 1.04)" font-size="18.5" text-anchor="middle" letter-spacing="-0.5">LUAD</text>
<path d="M140.72 1606.9V1701.94M140.72 1778.47V1873.9M94.52 1701.94H186.92V1778.47H94.52ZM264.12 1654.62V1740.53M264.12 1797.67V1854.69M217.92 1740.53H310.32V1797.67H217.92Z" fill="none" stroke="#000" stroke-width="4.25" stroke-linejoin="round"/>
<path d="M94.52 1730.52H186.92M217.92 1778.67H310.32" fill="none" stroke="#000" stroke-width="8.5"/>
<g fill="#45a12b"><circle cx="124.08" cy="1603.4" r="4.35"/><circle cx="122.75" cy="1634.68" r="4.35"/><circle cx="126.09" cy="1653.25" r="4.35"/><circle cx="123.25" cy="1660.28" r="4.35"/><circle cx="122.75" cy="1664.12" r="4.35"/><circle cx="155.2" cy="1666.47" r="4.35"/><circle cx="119.4" cy="1680.02" r="4.35"/><circle cx="123.58" cy="1681.52" r="4.35"/><circle cx="132.45" cy="1680.02" r="4.35"/><circle cx="118.23" cy="1689.05" r="4.35"/><circle cx="155.87" cy="1691.56" r="4.35"/><circle cx="137.8" cy="1694.9" r="4.35"/><circle cx="133.95" cy="1699.08" r="4.35"/><circle cx="117.39" cy="1702.93" r="4.35"/><circle cx="125.76" cy="1702.1" r="4.35"/><circle cx="126.59" cy="1711.3" r="4.35"/><circle cx="133.12" cy="1711.8" r="4.35"/><circle cx="143.66" cy="1709.62" r="4.35"/><circle cx="159.55" cy="1717.99" r="4.35"/><circle cx="140.81" cy="1723.01" r="4.35"/><circle cx="121.91" cy="1729.7" r="4.35"/><circle cx="161.56" cy="1730.03" r="4.35"/><circle cx="155.37" cy="1741.74" r="4.35"/><circle cx="136.13" cy="1747.6" r="4.35"/><circle cx="162.56" cy="1751.44" r="4.35"/><circle cx="152.52" cy="1756.46" r="4.35"/><circle cx="145.66" cy="1758.97" r="4.35"/><circle cx="147" cy="1762.65" r="4.35"/><circle cx="132.78" cy="1766.83" r="4.35"/><circle cx="144.83" cy="1769.01" r="4.35"/><circle cx="126.43" cy="1775.7" r="4.35"/><circle cx="160.38" cy="1777.37" r="4.35"/><circle cx="152.35" cy="1787.41" r="4.35"/><circle cx="153.19" cy="1791.59" r="4.35"/><circle cx="119.74" cy="1796.94" r="4.35"/><circle cx="141.65" cy="1804.47" r="4.35"/><circle cx="152.86" cy="1803.63" r="4.35"/><circle cx="121.91" cy="1828.89" r="4.35"/><circle cx="125.76" cy="1828.06" r="4.35"/><circle cx="124.42" cy="1839.77" r="4.35"/><circle cx="119.4" cy="1858.84" r="4.35"/><circle cx="134.12" cy="1876.57" r="4.35"/><circle cx="116.56" cy="1918.72" r="4.35"/></g>
<g fill="#d03323"><circle cx="279.32" cy="1622.97" r="4.35"/><circle cx="284.84" cy="1653.75" r="4.35"/><circle cx="278.32" cy="1669.98" r="4.35"/><circle cx="281.66" cy="1674.83" r="4.35"/><circle cx="270.29" cy="1683.19" r="4.35"/><circle cx="260.75" cy="1698.42" r="4.35"/><circle cx="241.18" cy="1704.94" r="4.35"/><circle cx="248.54" cy="1713.3" r="4.35"/><circle cx="241.85" cy="1728.02" r="4.35"/><circle cx="267.95" cy="1728.53" r="4.35"/><circle cx="277.98" cy="1731.04" r="4.35"/><circle cx="266.27" cy="1733.04" r="4.35"/><circle cx="266.61" cy="1738.9" r="4.35"/><circle cx="253.73" cy="1741.91" r="4.35"/><circle cx="271.96" cy="1742.75" r="4.35"/><circle cx="259.08" cy="1750.61" r="4.35"/><circle cx="251.55" cy="1753.12" r="4.35"/><circle cx="259.92" cy="1755.63" r="4.35"/><circle cx="276.64" cy="1756.13" r="4.35"/><circle cx="262.43" cy="1759.81" r="4.35"/><circle cx="274.97" cy="1769.01" r="4.35"/><circle cx="262.93" cy="1770.68" r="4.35"/><circle cx="287.52" cy="1770.18" r="4.35"/><circle cx="271.29" cy="1771.52" r="4.35"/><circle cx="279.66" cy="1776.54" r="4.35"/><circle cx="284.17" cy="1776.54" r="4.35"/><circle cx="241.52" cy="1779.04" r="4.35"/><circle cx="246.53" cy="1777.37" r="4.35"/><circle cx="251.55" cy="1776.87" r="4.35"/><circle cx="259.08" cy="1779.38" r="4.35"/><circle cx="256.57" cy="1782.39" r="4.35"/><circle cx="242.35" cy="1784.57" r="4.35"/><circle cx="248.21" cy="1786.57" r="4.35"/><circle cx="278.32" cy="1788.58" r="4.35"/><circle cx="254.9" cy="1789.08" r="4.35"/><circle cx="247.04" cy="1796.11" r="4.35"/><circle cx="267.11" cy="1796.61" r="4.35"/><circle cx="256.57" cy="1799.45" r="4.35"/><circle cx="243.52" cy="1804.47" r="4.35"/><circle cx="253.73" cy="1807.15" r="4.35"/><circle cx="274.97" cy="1807.15" r="4.35"/><circle cx="287.18" cy="1805.48" r="4.35"/><circle cx="264.1" cy="1823.71" r="4.35"/><circle cx="278.82" cy="1823.71" r="4.35"/><circle cx="288.02" cy="1829.73" r="4.35"/><circle cx="271.63" cy="1832.57" r="4.35"/><circle cx="256.9" cy="1838.76" r="4.35"/><circle cx="276.31" cy="1852.15" r="4.35"/><circle cx="265.44" cy="1891.96" r="4.35"/><circle cx="279.15" cy="1900.32" r="4.35"/><circle cx="273.63" cy="1930.1" r="4.35"/></g>
<path d="M140.72 1599.59V1589.59H264.12V1599.59" fill="none" stroke="#000" stroke-width="2.4" stroke-linecap="round" stroke-linejoin="round"/>
<text transform="translate(202.81 1586.89) scale(1 1.125)" font-size="21.4" text-anchor="middle" letter-spacing="0.78">0.0088</text>
</g>
<g>
<rect x="440.82" y="1519.35" width="271.3" height="38.7" fill="#cbcbcb"/>
<text transform="translate(580.07 1547.65) scale(1 1.075)" font-size="24.7" text-anchor="middle">Monocyte</text>
<text transform="translate(427.52 1570.89) scale(1 1.075)" font-size="20.6" text-anchor="end">0.05</text>
<text transform="translate(427.52 1641.44) scale(1 1.075)" font-size="20.6" text-anchor="end">0.04</text>
<text transform="translate(427.52 1712) scale(1 1.075)" font-size="20.6" text-anchor="end">0.03</text>
<text transform="translate(427.52 1782.56) scale(1 1.075)" font-size="20.6" text-anchor="end">0.02</text>
<text transform="translate(427.52 1853.11) scale(1 1.075)" font-size="20.6" text-anchor="end">0.01</text>
<text transform="translate(427.52 1923.67) scale(1 1.075)" font-size="20.6" text-anchor="end">0.00</text>
<path d="M433.52 1563.19H438.69M433.52 1633.74H438.69M433.52 1704.3H438.69M433.52 1774.86H438.69M433.52 1845.41H438.69M433.52 1915.97H438.69M514.42 1935.67V1940.85M637.82 1935.67V1940.85M440.82 1556.45V1933.55H713.92" fill="none" stroke="#000" stroke-width="4.25"/>
<text transform="translate(514.42 1962.45) scale(1 1.04)" font-size="18.5" text-anchor="middle">HC</text>
<text transform="translate(638.42 1962.45) scale(1 1.04)" font-size="18.5" text-anchor="middle" letter-spacing="-0.5">LUAD</text>
<path d="M514.42 1641.55V1704.28M514.42 1760.68V1802.87M468.22 1704.28H560.62V1760.68H468.22ZM637.82 1656.54V1755.61M637.82 1829.9V1915.07M591.62 1755.61H684.02V1829.9H591.62Z" fill="none" stroke="#000" stroke-width="4.25" stroke-linejoin="round"/>
<path d="M468.22 1725.52H560.62M591.62 1792.69H684.02" fill="none" stroke="#000" stroke-width="8.5"/>
<g fill="#45a12b"><circle cx="508.29" cy="1590.24" r="4.35"/><circle cx="524.18" cy="1641.09" r="4.35"/><circle cx="518.66" cy="1653.31" r="4.35"/><circle cx="499.09" cy="1667.52" r="4.35"/><circle cx="504.61" cy="1670.03" r="4.35"/><circle cx="534.22" cy="1667.52" r="4.35"/><circle cx="520" cy="1676.22" r="4.35"/><circle cx="508.63" cy="1684.25" r="4.35"/><circle cx="521.34" cy="1684.59" r="4.35"/><circle cx="535.06" cy="1689.61" r="4.35"/><circle cx="508.29" cy="1699.64" r="4.35"/><circle cx="512.47" cy="1702.99" r="4.35"/><circle cx="532.55" cy="1702.99" r="4.35"/><circle cx="535.89" cy="1702.15" r="4.35"/><circle cx="493.24" cy="1711.35" r="4.35"/><circle cx="506.62" cy="1709.68" r="4.35"/><circle cx="513.31" cy="1708.84" r="4.35"/><circle cx="518.33" cy="1709.18" r="4.35"/><circle cx="510.8" cy="1713.02" r="4.35"/><circle cx="531.71" cy="1713.86" r="4.35"/><circle cx="516.66" cy="1716.7" r="4.35"/><circle cx="509.13" cy="1718.54" r="4.35"/><circle cx="490.73" cy="1722.22" r="4.35"/><circle cx="502.44" cy="1723.06" r="4.35"/><circle cx="498.76" cy="1727.58" r="4.35"/><circle cx="504.61" cy="1726.41" r="4.35"/><circle cx="509.97" cy="1724.73" r="4.35"/><circle cx="538.9" cy="1725.57" r="4.35"/><circle cx="532.21" cy="1731.93" r="4.35"/><circle cx="514.98" cy="1741.8" r="4.35"/><circle cx="504.11" cy="1744.81" r="4.35"/><circle cx="530.54" cy="1743.97" r="4.35"/><circle cx="515.49" cy="1759.53" r="4.35"/><circle cx="504.11" cy="1761.2" r="4.35"/><circle cx="509.97" cy="1764.88" r="4.35"/><circle cx="527.86" cy="1763.54" r="4.35"/><circle cx="538.07" cy="1769.9" r="4.35"/><circle cx="505.78" cy="1774.42" r="4.35"/><circle cx="498.59" cy="1777.43" r="4.35"/><circle cx="523.01" cy="1782.11" r="4.35"/><circle cx="533.38" cy="1782.78" r="4.35"/><circle cx="528.87" cy="1788.8" r="4.35"/><circle cx="504.95" cy="1789.97" r="4.35"/><circle cx="506.29" cy="1797.5" r="4.35"/><circle cx="533.89" cy="1801.68" r="4.35"/><circle cx="525.86" cy="1804.19" r="4.35"/><circle cx="504.95" cy="1851.03" r="4.35"/></g>
<g fill="#d03323"><circle cx="637.1" cy="1655.65" r="4.35"/><circle cx="625.72" cy="1706.67" r="4.35"/><circle cx="650.98" cy="1705.83" r="4.35"/><circle cx="649.14" cy="1713.02" r="4.35"/><circle cx="652.66" cy="1717.21" r="4.35"/><circle cx="635.43" cy="1734.27" r="4.35"/><circle cx="654.33" cy="1733.93" r="4.35"/><circle cx="652.15" cy="1741.13" r="4.35"/><circle cx="621.71" cy="1747.32" r="4.35"/><circle cx="645.96" cy="1746.98" r="4.35"/><circle cx="619.2" cy="1751.5" r="4.35"/><circle cx="652.99" cy="1752" r="4.35"/><circle cx="637.1" cy="1754.01" r="4.35"/><circle cx="617.86" cy="1755.68" r="4.35"/><circle cx="647.97" cy="1754.01" r="4.35"/><circle cx="655.5" cy="1757.35" r="4.35"/><circle cx="658.84" cy="1761.2" r="4.35"/><circle cx="654.66" cy="1764.88" r="4.35"/><circle cx="648.81" cy="1767.39" r="4.35"/><circle cx="658.01" cy="1766.55" r="4.35"/><circle cx="652.99" cy="1769.9" r="4.35"/><circle cx="624.89" cy="1769.57" r="4.35"/><circle cx="635.76" cy="1774.58" r="4.35"/><circle cx="636.26" cy="1786.63" r="4.35"/><circle cx="642.12" cy="1786.63" r="4.35"/><circle cx="658.51" cy="1787.8" r="4.35"/><circle cx="648.81" cy="1789.97" r="4.35"/><circle cx="632.92" cy="1794.16" r="4.35"/><circle cx="643.45" cy="1793.32" r="4.35"/><circle cx="655.83" cy="1796.66" r="4.35"/><circle cx="647.13" cy="1801.35" r="4.35"/><circle cx="634.92" cy="1803.02" r="4.35"/><circle cx="660.18" cy="1807.54" r="4.35"/><circle cx="620.7" cy="1815.9" r="4.35"/><circle cx="660.52" cy="1815.57" r="4.35"/><circle cx="647.13" cy="1816.24" r="4.35"/><circle cx="640.11" cy="1819.25" r="4.35"/><circle cx="657.17" cy="1818.41" r="4.35"/><circle cx="653.83" cy="1821.42" r="4.35"/><circle cx="637.93" cy="1829.62" r="4.35"/><circle cx="616.19" cy="1837.31" r="4.35"/><circle cx="626.73" cy="1838.82" r="4.35"/><circle cx="659.18" cy="1838.15" r="4.35"/><circle cx="660.18" cy="1841.83" r="4.35"/><circle cx="614.85" cy="1846.01" r="4.35"/><circle cx="659.18" cy="1846.01" r="4.35"/><circle cx="638.77" cy="1849.69" r="4.35"/><circle cx="639.11" cy="1854.38" r="4.35"/><circle cx="624.05" cy="1855.55" r="4.35"/><circle cx="652.66" cy="1858.56" r="4.35"/><circle cx="660.52" cy="1878.3" r="4.35"/><circle cx="616.52" cy="1887.33" r="4.35"/><circle cx="647.13" cy="1895.86" r="4.35"/><circle cx="640.78" cy="1915.94" r="4.35"/></g>
<path d="M514.42 1584.55V1574.55H637.82V1584.55" fill="none" stroke="#000" stroke-width="2.4" stroke-linecap="round" stroke-linejoin="round"/>
<text transform="translate(576.51 1571.85) scale(1 1.125)" font-size="21.4" text-anchor="middle" letter-spacing="0.78">7.3e−09</text>
</g>
<g>
<rect x="825.53" y="1521.08" width="271.3" height="38.7" fill="#cbcbcb"/>
<text transform="translate(964.58 1549.38) scale(1 1.075)" font-size="24.7" text-anchor="middle">Macrophage</text>
<text transform="translate(812.23 1635.49) scale(1 1.075)" font-size="20.6" text-anchor="end">0.075</text>
<text transform="translate(812.23 1732.21) scale(1 1.075)" font-size="20.6" text-anchor="end">0.050</text>
<text transform="translate(812.23 1828.94) scale(1 1.075)" font-size="20.6" text-anchor="end">0.025</text>
<text transform="translate(812.23 1925.66) scale(1 1.075)" font-size="20.6" text-anchor="end">0.000</text>
<path d="M818.23 1627.79H823.4M818.23 1724.51H823.4M818.23 1821.24H823.4M818.23 1917.96H823.4M899.13 1937.41V1942.58M1022.53 1937.41V1942.58M825.53 1558.18V1935.28H1098.63" fill="none" stroke="#000" stroke-width="4.25"/>
<text transform="translate(899.13 1964.18) scale(1 1.04)" font-size="18.5" text-anchor="middle">HC</text>
<text transform="translate(1023.13 1964.18) scale(1 1.04)" font-size="18.5" text-anchor="middle" letter-spacing="-0.5">LUAD</text>
<path d="M899.13 1635.62V1693.28M899.13 1743.43V1816.63M852.93 1693.28H945.33V1743.43H852.93ZM1022.53 1662.82V1731.97M1022.53 1805.63V1854.69M976.33 1731.97H1068.73V1805.63H976.33Z" fill="none" stroke="#000" stroke-width="4.25" stroke-linejoin="round"/>
<path d="M852.93 1712.9H945.33M976.33 1774.35H1068.73" fill="none" stroke="#000" stroke-width="8.5"/>
<g fill="#45a12b"><circle cx="897.14" cy="1592.24" r="4.35"/><circle cx="875.39" cy="1635.9" r="4.35"/><circle cx="910.35" cy="1634.73" r="4.35"/><circle cx="879.58" cy="1647.61" r="4.35"/><circle cx="898.81" cy="1652.29" r="4.35"/><circle cx="880.24" cy="1668.69" r="4.35"/><circle cx="882.42" cy="1674.54" r="4.35"/><circle cx="891.62" cy="1672.87" r="4.35"/><circle cx="923.9" cy="1678.22" r="4.35"/><circle cx="892.12" cy="1683.74" r="4.35"/><circle cx="908.85" cy="1686.59" r="4.35"/><circle cx="881.92" cy="1689.1" r="4.35"/><circle cx="892.96" cy="1692.11" r="4.35"/><circle cx="908.35" cy="1692.78" r="4.35"/><circle cx="880.75" cy="1696.62" r="4.35"/><circle cx="908.68" cy="1697.13" r="4.35"/><circle cx="919.22" cy="1695.79" r="4.35"/><circle cx="889.95" cy="1699.97" r="4.35"/><circle cx="916.71" cy="1703.65" r="4.35"/><circle cx="923.9" cy="1703.65" r="4.35"/><circle cx="885.76" cy="1708" r="4.35"/><circle cx="891.12" cy="1708.84" r="4.35"/><circle cx="908.35" cy="1711.18" r="4.35"/><circle cx="892.46" cy="1713.35" r="4.35"/><circle cx="889.95" cy="1715.53" r="4.35"/><circle cx="907.01" cy="1717.53" r="4.35"/><circle cx="893.63" cy="1728.41" r="4.35"/><circle cx="889.61" cy="1734.6" r="4.35"/><circle cx="909.69" cy="1733.09" r="4.35"/><circle cx="917.55" cy="1734.26" r="4.35"/><circle cx="923.4" cy="1735.1" r="4.35"/><circle cx="920.06" cy="1739.28" r="4.35"/><circle cx="889.11" cy="1742.96" r="4.35"/><circle cx="921.73" cy="1742.63" r="4.35"/><circle cx="906.67" cy="1744.63" r="4.35"/><circle cx="915.04" cy="1745.13" r="4.35"/><circle cx="894.13" cy="1747.64" r="4.35"/><circle cx="880.24" cy="1752.33" r="4.35"/><circle cx="879.07" cy="1756.51" r="4.35"/><circle cx="917.05" cy="1755.67" r="4.35"/><circle cx="915.37" cy="1771.9" r="4.35"/><circle cx="906.34" cy="1776.92" r="4.35"/><circle cx="902.49" cy="1780.26" r="4.35"/><circle cx="881.08" cy="1790.3" r="4.35"/><circle cx="901.32" cy="1789.97" r="4.35"/><circle cx="890.78" cy="1813.72" r="4.35"/><circle cx="913.37" cy="1817.9" r="4.35"/><circle cx="907.68" cy="1872.77" r="4.35"/></g>
<g fill="#d03323"><circle cx="1034.64" cy="1660.99" r="4.35"/><circle cx="1009.55" cy="1665.34" r="4.35"/><circle cx="1029.96" cy="1673.54" r="4.35"/><circle cx="1029.29" cy="1678.72" r="4.35"/><circle cx="1001.19" cy="1681.9" r="4.35"/><circle cx="1002.86" cy="1689.1" r="4.35"/><circle cx="1013.23" cy="1689.1" r="4.35"/><circle cx="1014.57" cy="1697.46" r="4.35"/><circle cx="1012.56" cy="1700.47" r="4.35"/><circle cx="1017.08" cy="1704.15" r="4.35"/><circle cx="1022.43" cy="1713.02" r="4.35"/><circle cx="1001.69" cy="1718.87" r="4.35"/><circle cx="1027.95" cy="1720.38" r="4.35"/><circle cx="1047.19" cy="1727.07" r="4.35"/><circle cx="1039.66" cy="1732.09" r="4.35"/><circle cx="1044.68" cy="1732.92" r="4.35"/><circle cx="1002.02" cy="1738.78" r="4.35"/><circle cx="1007.04" cy="1739.78" r="4.35"/><circle cx="1019.25" cy="1740.12" r="4.35"/><circle cx="1004.2" cy="1743.13" r="4.35"/><circle cx="1035.81" cy="1750.15" r="4.35"/><circle cx="1036.82" cy="1753.5" r="4.35"/><circle cx="1047.19" cy="1754.34" r="4.35"/><circle cx="1010.05" cy="1758.52" r="4.35"/><circle cx="1025.95" cy="1757.68" r="4.35"/><circle cx="1036.82" cy="1762.2" r="4.35"/><circle cx="1015.41" cy="1766.04" r="4.35"/><circle cx="1047.19" cy="1773.24" r="4.35"/><circle cx="1039.66" cy="1773.24" r="4.35"/><circle cx="1031.8" cy="1775.25" r="4.35"/><circle cx="999.01" cy="1779.09" r="4.35"/><circle cx="1006.21" cy="1777.42" r="4.35"/><circle cx="1010.89" cy="1778.26" r="4.35"/><circle cx="1013.23" cy="1782.44" r="4.35"/><circle cx="1024.11" cy="1790.3" r="4.35"/><circle cx="1031.3" cy="1790.8" r="4.35"/><circle cx="1017.92" cy="1791.97" r="4.35"/><circle cx="1019.59" cy="1798.33" r="4.35"/><circle cx="1014.57" cy="1800.67" r="4.35"/><circle cx="1040.5" cy="1801.17" r="4.35"/><circle cx="1044.35" cy="1800.84" r="4.35"/><circle cx="1042.17" cy="1805.36" r="4.35"/><circle cx="1047.19" cy="1806.69" r="4.35"/><circle cx="1038.49" cy="1817.57" r="4.35"/><circle cx="1013.73" cy="1822.08" r="4.35"/><circle cx="1021.76" cy="1824.59" r="4.35"/><circle cx="1031.3" cy="1827.6" r="4.35"/><circle cx="1034.14" cy="1834.96" r="4.35"/><circle cx="1030.46" cy="1835.8" r="4.35"/><circle cx="1000.85" cy="1837.47" r="4.35"/><circle cx="1016.58" cy="1846.84" r="4.35"/><circle cx="1043.01" cy="1850.86" r="4.35"/><circle cx="1013.73" cy="1855.21" r="4.35"/><circle cx="1022.1" cy="1855.87" r="4.35"/><circle cx="1025.78" cy="1854.7" r="4.35"/><circle cx="1016.24" cy="1916.26" r="4.35"/></g>
<path d="M899.13 1586.28V1576.28H1022.53V1586.28" fill="none" stroke="#000" stroke-width="2.4" stroke-linecap="round" stroke-linejoin="round"/>
<text transform="translate(961.22 1573.58) scale(1 1.125)" font-size="21.4" text-anchor="middle" letter-spacing="0.78">1.4e−05</text>
</g>
<g>
<rect x="1173.2" y="1521.08" width="271.3" height="38.7" fill="#cbcbcb"/>
<text transform="translate(1310.05 1549.38) scale(1 1.075)" font-size="24.7" text-anchor="middle">NK</text>
<text transform="translate(1159.9 1664.72) scale(1 1.075)" font-size="20.6" text-anchor="end">0.02</text>
<text transform="translate(1159.9 1793.91) scale(1 1.075)" font-size="20.6" text-anchor="end">0.01</text>
<text transform="translate(1159.9 1923.09) scale(1 1.075)" font-size="20.6" text-anchor="end">0.00</text>
<path d="M1165.9 1657.02H1171.08M1165.9 1786.21H1171.08M1165.9 1915.39H1171.08M1246.8 1937.41V1942.58M1370.2 1937.41V1942.58M1173.2 1558.18V1935.28H1446.3" fill="none" stroke="#000" stroke-width="4.25"/>
<text transform="translate(1246.8 1964.18) scale(1 1.04)" font-size="18.5" text-anchor="middle">HC</text>
<text transform="translate(1370.8 1964.18) scale(1 1.04)" font-size="18.5" text-anchor="middle" letter-spacing="-0.5">LUAD</text>
<path d="M1246.8 1593.08V1644.28M1246.8 1695.72V1747.42M1200.6 1644.28H1293V1695.72H1200.6ZM1370.2 1631.47V1721.57M1370.2 1799.18V1916.21M1324 1721.57H1416.4V1799.18H1324Z" fill="none" stroke="#000" stroke-width="4.25" stroke-linejoin="round"/>
<path d="M1200.6 1670.5H1293M1324 1760.55H1416.4" fill="none" stroke="#000" stroke-width="8.5"/>
<g fill="#45a12b"><circle cx="1257.02" cy="1587.56" r="4.35"/><circle cx="1237.78" cy="1597.43" r="4.35"/><circle cx="1263.04" cy="1601.27" r="4.35"/><circle cx="1260.53" cy="1603.78" r="4.35"/><circle cx="1228.75" cy="1640.58" r="4.35"/><circle cx="1237.44" cy="1639.41" r="4.35"/><circle cx="1257.18" cy="1640.08" r="4.35"/><circle cx="1225.4" cy="1643.09" r="4.35"/><circle cx="1234.6" cy="1644.77" r="4.35"/><circle cx="1244.64" cy="1643.93" r="4.35"/><circle cx="1223.73" cy="1648.11" r="4.35"/><circle cx="1247.98" cy="1648.11" r="4.35"/><circle cx="1263.37" cy="1651.96" r="4.35"/><circle cx="1249.66" cy="1653.97" r="4.35"/><circle cx="1253" cy="1654.3" r="4.35"/><circle cx="1223.23" cy="1661.49" r="4.35"/><circle cx="1263.54" cy="1661.83" r="4.35"/><circle cx="1231.26" cy="1666.51" r="4.35"/><circle cx="1242.97" cy="1670.7" r="4.35"/><circle cx="1248.82" cy="1671.53" r="4.35"/><circle cx="1253.84" cy="1670.7" r="4.35"/><circle cx="1224.56" cy="1672.37" r="4.35"/><circle cx="1235.94" cy="1673.2" r="4.35"/><circle cx="1261.37" cy="1672.7" r="4.35"/><circle cx="1230.42" cy="1679.9" r="4.35"/><circle cx="1253" cy="1679.06" r="4.35"/><circle cx="1239.62" cy="1682.4" r="4.35"/><circle cx="1257.18" cy="1684.41" r="4.35"/><circle cx="1266.05" cy="1684.08" r="4.35"/><circle cx="1233.43" cy="1687.42" r="4.35"/><circle cx="1266.38" cy="1692.44" r="4.35"/><circle cx="1241.29" cy="1695.79" r="4.35"/><circle cx="1223.39" cy="1697.79" r="4.35"/><circle cx="1245.47" cy="1701.14" r="4.35"/><circle cx="1253" cy="1701.14" r="4.35"/><circle cx="1234.1" cy="1711.34" r="4.35"/><circle cx="1270.23" cy="1719.21" r="4.35"/><circle cx="1246.65" cy="1721.38" r="4.35"/><circle cx="1267.56" cy="1721.72" r="4.35"/><circle cx="1228.75" cy="1730.41" r="4.35"/><circle cx="1246.31" cy="1731.42" r="4.35"/><circle cx="1266.38" cy="1733.93" r="4.35"/><circle cx="1227.91" cy="1748.98" r="4.35"/><circle cx="1227.07" cy="1750.99" r="4.35"/></g>
<g fill="#d03323"><circle cx="1393.18" cy="1632.56" r="4.35"/><circle cx="1346.85" cy="1655.31" r="4.35"/><circle cx="1357.55" cy="1669.02" r="4.35"/><circle cx="1392.35" cy="1680.73" r="4.35"/><circle cx="1358.89" cy="1681.9" r="4.35"/><circle cx="1368.09" cy="1684.08" r="4.35"/><circle cx="1380.13" cy="1683.74" r="4.35"/><circle cx="1388.5" cy="1691.94" r="4.35"/><circle cx="1375.95" cy="1694.62" r="4.35"/><circle cx="1372.61" cy="1699.97" r="4.35"/><circle cx="1373.78" cy="1704.15" r="4.35"/><circle cx="1379.3" cy="1710.84" r="4.35"/><circle cx="1347.85" cy="1717.53" r="4.35"/><circle cx="1365.08" cy="1718.04" r="4.35"/><circle cx="1381.47" cy="1718.7" r="4.35"/><circle cx="1357.55" cy="1722.05" r="4.35"/><circle cx="1373.44" cy="1722.55" r="4.35"/><circle cx="1393.18" cy="1725.9" r="4.35"/><circle cx="1379.3" cy="1726.73" r="4.35"/><circle cx="1372.61" cy="1730.92" r="4.35"/><circle cx="1370.93" cy="1742.63" r="4.35"/><circle cx="1381.31" cy="1744.8" r="4.35"/><circle cx="1348.02" cy="1747.31" r="4.35"/><circle cx="1359.73" cy="1747.64" r="4.35"/><circle cx="1366.42" cy="1750.99" r="4.35"/><circle cx="1380.13" cy="1752.16" r="4.35"/><circle cx="1387.66" cy="1755.67" r="4.35"/><circle cx="1358.05" cy="1758.52" r="4.35"/><circle cx="1353.87" cy="1761.86" r="4.35"/><circle cx="1363.41" cy="1761.86" r="4.35"/><circle cx="1367.59" cy="1764.37" r="4.35"/><circle cx="1372.61" cy="1777.25" r="4.35"/><circle cx="1354.71" cy="1783.61" r="4.35"/><circle cx="1365.08" cy="1786.12" r="4.35"/><circle cx="1389.67" cy="1785.62" r="4.35"/><circle cx="1352.2" cy="1789.97" r="4.35"/><circle cx="1357.05" cy="1796.16" r="4.35"/><circle cx="1373.44" cy="1802.01" r="4.35"/><circle cx="1359.22" cy="1807.86" r="4.35"/><circle cx="1375.45" cy="1807.03" r="4.35"/><circle cx="1380.97" cy="1811.21" r="4.35"/><circle cx="1388.16" cy="1813.72" r="4.35"/><circle cx="1357.05" cy="1817.4" r="4.35"/><circle cx="1354.21" cy="1823.76" r="4.35"/><circle cx="1350.36" cy="1832.96" r="4.35"/><circle cx="1377.63" cy="1841.66" r="4.35"/><circle cx="1381.81" cy="1853.53" r="4.35"/><circle cx="1354.21" cy="1863.07" r="4.35"/><circle cx="1385.49" cy="1890.17" r="4.35"/><circle cx="1368.76" cy="1904.55" r="4.35"/><circle cx="1380.97" cy="1904.05" r="4.35"/><circle cx="1370.93" cy="1917.77" r="4.35"/></g>
<path d="M1246.8 1586.28V1576.28H1370.2V1586.28" fill="none" stroke="#000" stroke-width="2.4" stroke-linecap="round" stroke-linejoin="round"/>
<text transform="translate(1308.89 1573.58) scale(1 1.125)" font-size="21.4" text-anchor="middle" letter-spacing="0.78">2.1e−12</text>
</g>
<g>
<rect x="1558.07" y="1517.9" width="271.3" height="38.7" fill="#cbcbcb"/>
<text transform="translate(1699.22 1546.2) scale(1 1.075)" font-size="24.7" text-anchor="middle">Neutrophil</text>
<text transform="translate(1544.77 1639.51) scale(1 1.075)" font-size="20.6" text-anchor="end">0.06</text>
<text transform="translate(1544.77 1733.89) scale(1 1.075)" font-size="20.6" text-anchor="end">0.04</text>
<text transform="translate(1544.77 1828.27) scale(1 1.075)" font-size="20.6" text-anchor="end">0.02</text>
<text transform="translate(1544.77 1922.65) scale(1 1.075)" font-size="20.6" text-anchor="end">0.00</text>
<path d="M1550.77 1631.81H1555.95M1550.77 1726.19H1555.95M1550.77 1820.57H1555.95M1550.77 1914.95H1555.95M1631.67 1934.23V1939.4M1755.07 1934.23V1939.4M1558.07 1555V1932.1H1831.17" fill="none" stroke="#000" stroke-width="4.25"/>
<text transform="translate(1631.67 1961) scale(1 1.04)" font-size="18.5" text-anchor="middle">HC</text>
<text transform="translate(1755.67 1961) scale(1 1.04)" font-size="18.5" text-anchor="middle" letter-spacing="-0.5">LUAD</text>
<path d="M1631.67 1595.64V1684.19M1631.67 1744.91V1797.27M1585.47 1684.19H1677.87V1744.91H1585.47ZM1755.07 1646.71V1731.02M1755.07 1814.72V1914.82M1708.87 1731.02H1801.27V1814.72H1708.87Z" fill="none" stroke="#000" stroke-width="4.25" stroke-linejoin="round"/>
<path d="M1585.47 1707.7H1677.87M1708.87 1778.27H1801.27" fill="none" stroke="#000" stroke-width="8.5"/>
<g fill="#45a12b"><circle cx="1618.26" cy="1590.58" r="4.35"/><circle cx="1630.14" cy="1594.76" r="4.35"/><circle cx="1649.88" cy="1613.17" r="4.35"/><circle cx="1646.03" cy="1646.29" r="4.35"/><circle cx="1624.95" cy="1659.5" r="4.35"/><circle cx="1637.67" cy="1659.17" r="4.35"/><circle cx="1617.09" cy="1667.03" r="4.35"/><circle cx="1632.98" cy="1670.38" r="4.35"/><circle cx="1636.83" cy="1675.06" r="4.35"/><circle cx="1622.11" cy="1679.74" r="4.35"/><circle cx="1632.15" cy="1681.25" r="4.35"/><circle cx="1641.35" cy="1679.74" r="4.35"/><circle cx="1617.93" cy="1685.6" r="4.35"/><circle cx="1646.37" cy="1684.59" r="4.35"/><circle cx="1639.34" cy="1685.93" r="4.35"/><circle cx="1650.55" cy="1689.28" r="4.35"/><circle cx="1631.81" cy="1691.79" r="4.35"/><circle cx="1655.23" cy="1695.13" r="4.35"/><circle cx="1614.92" cy="1698.48" r="4.35"/><circle cx="1612.91" cy="1702.66" r="4.35"/><circle cx="1627.46" cy="1702.33" r="4.35"/><circle cx="1634.66" cy="1704" r="4.35"/><circle cx="1643.52" cy="1703.5" r="4.35"/><circle cx="1610.74" cy="1706.51" r="4.35"/><circle cx="1617.09" cy="1705.17" r="4.35"/><circle cx="1625.46" cy="1707.68" r="4.35"/><circle cx="1617.43" cy="1713.53" r="4.35"/><circle cx="1626.79" cy="1722.23" r="4.35"/><circle cx="1613.41" cy="1726.41" r="4.35"/><circle cx="1614.58" cy="1729.43" r="4.35"/><circle cx="1652.56" cy="1727.42" r="4.35"/><circle cx="1640.85" cy="1727.75" r="4.35"/><circle cx="1645.03" cy="1731.93" r="4.35"/><circle cx="1612.41" cy="1738.63" r="4.35"/><circle cx="1620.1" cy="1741.64" r="4.35"/><circle cx="1626.29" cy="1742.47" r="4.35"/><circle cx="1631.31" cy="1745.82" r="4.35"/><circle cx="1608.73" cy="1749.16" r="4.35"/><circle cx="1625.46" cy="1754.52" r="4.35"/><circle cx="1623.45" cy="1758.7" r="4.35"/><circle cx="1632.98" cy="1758.2" r="4.35"/><circle cx="1646.7" cy="1759.54" r="4.35"/><circle cx="1655.57" cy="1759.2" r="4.35"/><circle cx="1646.87" cy="1767.9" r="4.35"/><circle cx="1608.73" cy="1773.75" r="4.35"/><circle cx="1632.98" cy="1787.64" r="4.35"/><circle cx="1627.13" cy="1798.85" r="4.35"/><circle cx="1650.38" cy="1798.34" r="4.35"/></g>
<g fill="#d03323"><circle cx="1735.53" cy="1646.12" r="4.35"/><circle cx="1761.79" cy="1647.46" r="4.35"/><circle cx="1738.87" cy="1660" r="4.35"/><circle cx="1755.43" cy="1659.17" r="4.35"/><circle cx="1754.26" cy="1669.54" r="4.35"/><circle cx="1740.88" cy="1672.55" r="4.35"/><circle cx="1744.56" cy="1675.9" r="4.35"/><circle cx="1731.34" cy="1680.41" r="4.35"/><circle cx="1745.4" cy="1696.47" r="4.35"/><circle cx="1737.53" cy="1702.66" r="4.35"/><circle cx="1736.7" cy="1711.02" r="4.35"/><circle cx="1760.12" cy="1710.69" r="4.35"/><circle cx="1771.83" cy="1712.2" r="4.35"/><circle cx="1732.52" cy="1730.26" r="4.35"/><circle cx="1746.73" cy="1729.93" r="4.35"/><circle cx="1773.16" cy="1733.27" r="4.35"/><circle cx="1766.47" cy="1740.3" r="4.35"/><circle cx="1736.7" cy="1743.31" r="4.35"/><circle cx="1745.9" cy="1741.97" r="4.35"/><circle cx="1750.58" cy="1740.8" r="4.35"/><circle cx="1776.34" cy="1746.49" r="4.35"/><circle cx="1732.52" cy="1750.84" r="4.35"/><circle cx="1749.58" cy="1752.84" r="4.35"/><circle cx="1767.64" cy="1754.85" r="4.35"/><circle cx="1739.71" cy="1757.86" r="4.35"/><circle cx="1744.56" cy="1765.89" r="4.35"/><circle cx="1735.86" cy="1768.74" r="4.35"/><circle cx="1759.28" cy="1770.41" r="4.35"/><circle cx="1733.35" cy="1773.42" r="4.35"/><circle cx="1730.84" cy="1783.46" r="4.35"/><circle cx="1757.11" cy="1782.62" r="4.35"/><circle cx="1775.17" cy="1784.29" r="4.35"/><circle cx="1776.84" cy="1786.3" r="4.35"/><circle cx="1768.15" cy="1791.32" r="4.35"/><circle cx="1767.14" cy="1795" r="4.35"/><circle cx="1747.9" cy="1796.67" r="4.35"/><circle cx="1753.43" cy="1801.02" r="4.35"/><circle cx="1735.36" cy="1802.69" r="4.35"/><circle cx="1768.48" cy="1805.54" r="4.35"/><circle cx="1774.34" cy="1805.54" r="4.35"/><circle cx="1742.05" cy="1810.22" r="4.35"/><circle cx="1776.01" cy="1810.56" r="4.35"/><circle cx="1772.66" cy="1815.24" r="4.35"/><circle cx="1751.25" cy="1817.75" r="4.35"/><circle cx="1779.02" cy="1818.08" r="4.35"/><circle cx="1743.89" cy="1821.76" r="4.35"/><circle cx="1770.66" cy="1821.76" r="4.35"/><circle cx="1763.96" cy="1837.32" r="4.35"/><circle cx="1761.45" cy="1841" r="4.35"/><circle cx="1746.23" cy="1846.02" r="4.35"/><circle cx="1733.35" cy="1852.88" r="4.35"/><circle cx="1735.53" cy="1852.38" r="4.35"/><circle cx="1774.34" cy="1862.41" r="4.35"/><circle cx="1778.52" cy="1862.91" r="4.35"/><circle cx="1751.25" cy="1881.65" r="4.35"/><circle cx="1731.18" cy="1902.56" r="4.35"/><circle cx="1744.56" cy="1913.94" r="4.35"/></g>
<path d="M1631.67 1583.1V1573.1H1755.07V1583.1" fill="none" stroke="#000" stroke-width="2.4" stroke-linecap="round" stroke-linejoin="round"/>
<text transform="translate(1693.76 1570.4) scale(1 1.125)" font-size="21.4" text-anchor="middle" letter-spacing="0.78">1.8e−06</text>
</g>
<g>
<rect x="70.02" y="2031.73" width="271.3" height="38.7" fill="#cbcbcb"/>
<text transform="translate(214.27 2060.03) scale(1 1.075)" font-size="24.7" text-anchor="middle">InfiltrationScore</text>
<text transform="translate(56.72 2111.76) scale(1 1.075)" font-size="20.6" text-anchor="end">0.9</text>
<text transform="translate(56.72 2176.57) scale(1 1.075)" font-size="20.6" text-anchor="end">0.8</text>
<text transform="translate(56.72 2241.38) scale(1 1.075)" font-size="20.6" text-anchor="end">0.7</text>
<text transform="translate(56.72 2306.19) scale(1 1.075)" font-size="20.6" text-anchor="end">0.6</text>
<text transform="translate(56.72 2371) scale(1 1.075)" font-size="20.6" text-anchor="end">0.5</text>
<text transform="translate(56.72 2435.81) scale(1 1.075)" font-size="20.6" text-anchor="end">0.4</text>
<path d="M62.72 2104.06H67.89M62.72 2168.87H67.89M62.72 2233.68H67.89M62.72 2298.49H67.89M62.72 2363.3H67.89M62.72 2428.11H67.89M143.62 2448.05V2453.23M267.02 2448.05V2453.23M70.02 2068.83V2445.93H343.12" fill="none" stroke="#000" stroke-width="4.25"/>
<text transform="translate(143.62 2474.83) scale(1 1.04)" font-size="18.5" text-anchor="middle">HC</text>
<text transform="translate(267.62 2474.83) scale(1 1.04)" font-size="18.5" text-anchor="middle" letter-spacing="-0.5">LUAD</text>
<path d="M143.62 2103.82V2181.14M143.62 2247.29V2271.79M97.42 2181.14H189.82V2247.29H97.42ZM267.02 2221.93V2267.64M267.02 2330.37V2396.67M220.82 2267.64H313.22V2330.37H220.82Z" fill="none" stroke="#000" stroke-width="4.25" stroke-linejoin="round"/>
<path d="M97.42 2216.21H189.82M220.82 2285.56H313.22" fill="none" stroke="#000" stroke-width="8.5"/>
<g fill="#45a12b"><circle cx="156.53" cy="2103.91" r="4.35"/><circle cx="153.68" cy="2135.7" r="4.35"/><circle cx="160.04" cy="2142.56" r="4.35"/><circle cx="135.28" cy="2143.56" r="4.35"/><circle cx="145.82" cy="2158.95" r="4.35"/><circle cx="127.42" cy="2168.99" r="4.35"/><circle cx="133.78" cy="2168.99" r="4.35"/><circle cx="126.58" cy="2171.49" r="4.35"/><circle cx="164.22" cy="2173.17" r="4.35"/><circle cx="134.61" cy="2177.02" r="4.35"/><circle cx="143.81" cy="2177.85" r="4.35"/><circle cx="144.15" cy="2182.03" r="4.35"/><circle cx="154.52" cy="2185.38" r="4.35"/><circle cx="124.91" cy="2190.73" r="4.35"/><circle cx="128.76" cy="2193.74" r="4.35"/><circle cx="151.34" cy="2195.75" r="4.35"/><circle cx="152.18" cy="2197.93" r="4.35"/><circle cx="135.28" cy="2199.6" r="4.35"/><circle cx="151.67" cy="2206.12" r="4.35"/><circle cx="134.11" cy="2207.46" r="4.35"/><circle cx="125.24" cy="2214.49" r="4.35"/><circle cx="134.61" cy="2214.15" r="4.35"/><circle cx="147.83" cy="2214.65" r="4.35"/><circle cx="137.46" cy="2216.66" r="4.35"/><circle cx="142.81" cy="2217.5" r="4.35"/><circle cx="129.09" cy="2222.18" r="4.35"/><circle cx="134.95" cy="2223.35" r="4.35"/><circle cx="144.98" cy="2224.52" r="4.35"/><circle cx="120.39" cy="2230.88" r="4.35"/><circle cx="124.58" cy="2232.05" r="4.35"/><circle cx="151.17" cy="2231.72" r="4.35"/><circle cx="149.17" cy="2241.75" r="4.35"/><circle cx="161.71" cy="2241.75" r="4.35"/><circle cx="153.35" cy="2245.1" r="4.35"/><circle cx="160.04" cy="2245.93" r="4.35"/><circle cx="156.69" cy="2249.28" r="4.35"/><circle cx="139.46" cy="2250.62" r="4.35"/><circle cx="127.42" cy="2254.3" r="4.35"/><circle cx="164.56" cy="2254.63" r="4.35"/><circle cx="131.6" cy="2261.49" r="4.35"/><circle cx="145.32" cy="2261.49" r="4.35"/><circle cx="155.19" cy="2261.49" r="4.35"/><circle cx="165.56" cy="2267.35" r="4.35"/><circle cx="134.11" cy="2269.02" r="4.35"/><circle cx="124.58" cy="2270.19" r="4.35"/><circle cx="159.2" cy="2271.86" r="4.35"/><circle cx="158.87" cy="2360.19" r="4.35"/></g>
<g fill="#d03323"><circle cx="267.1" cy="2221.18" r="4.35"/><circle cx="255.39" cy="2228.87" r="4.35"/><circle cx="256.56" cy="2237.57" r="4.35"/><circle cx="248.7" cy="2238.74" r="4.35"/><circle cx="264.09" cy="2242.92" r="4.35"/><circle cx="285.5" cy="2252.96" r="4.35"/><circle cx="292.52" cy="2253.46" r="4.35"/><circle cx="263.75" cy="2254.3" r="4.35"/><circle cx="268.77" cy="2255.97" r="4.35"/><circle cx="256.22" cy="2259.32" r="4.35"/><circle cx="268.77" cy="2260.99" r="4.35"/><circle cx="251.21" cy="2263.5" r="4.35"/><circle cx="288.01" cy="2263.5" r="4.35"/><circle cx="282.99" cy="2267.35" r="4.35"/><circle cx="247.86" cy="2268.52" r="4.35"/><circle cx="292.19" cy="2270.19" r="4.35"/><circle cx="247.02" cy="2271.53" r="4.35"/><circle cx="262.41" cy="2270.52" r="4.35"/><circle cx="278.47" cy="2274.37" r="4.35"/><circle cx="252.04" cy="2276.04" r="4.35"/><circle cx="270.78" cy="2277.72" r="4.35"/><circle cx="246.19" cy="2281.9" r="4.35"/><circle cx="279.64" cy="2281.06" r="4.35"/><circle cx="261.24" cy="2283.57" r="4.35"/><circle cx="267.1" cy="2283.57" r="4.35"/><circle cx="285.5" cy="2283.91" r="4.35"/><circle cx="248.36" cy="2285.75" r="4.35"/><circle cx="271.28" cy="2285.25" r="4.35"/><circle cx="276.3" cy="2288.26" r="4.35"/><circle cx="251.71" cy="2295.62" r="4.35"/><circle cx="269.94" cy="2300.8" r="4.35"/><circle cx="278.47" cy="2301.14" r="4.35"/><circle cx="277.97" cy="2305.65" r="4.35"/><circle cx="281.82" cy="2310.67" r="4.35"/><circle cx="248.36" cy="2319.54" r="4.35"/><circle cx="279.14" cy="2318.7" r="4.35"/><circle cx="288.01" cy="2319.54" r="4.35"/><circle cx="284.66" cy="2322.88" r="4.35"/><circle cx="282.15" cy="2327.07" r="4.35"/><circle cx="274.63" cy="2331.58" r="4.35"/><circle cx="245.85" cy="2341.28" r="4.35"/><circle cx="244.18" cy="2358.51" r="4.35"/><circle cx="256.22" cy="2359.18" r="4.35"/><circle cx="285.83" cy="2361.36" r="4.35"/><circle cx="251.21" cy="2363.03" r="4.35"/><circle cx="283.83" cy="2366.38" r="4.35"/><circle cx="243.18" cy="2368.55" r="4.35"/><circle cx="272.12" cy="2381.43" r="4.35"/><circle cx="248.36" cy="2390.3" r="4.35"/><circle cx="280.15" cy="2390.3" r="4.35"/><circle cx="248.7" cy="2397.32" r="4.35"/><circle cx="275.8" cy="2396.99" r="4.35"/><circle cx="245.85" cy="2426.26" r="4.35"/><circle cx="249.2" cy="2428.6" r="4.35"/></g>
<path d="M143.62 2096.93V2086.93H267.02V2096.93" fill="none" stroke="#000" stroke-width="2.4" stroke-linecap="round" stroke-linejoin="round"/>
<text transform="translate(205.71 2084.23) scale(1 1.125)" font-size="21.4" text-anchor="middle" letter-spacing="0.78">2.9e−14</text>
</g>
<g>
<rect x="434.48" y="2031.15" width="271.3" height="38.7" fill="#cbcbcb"/>
<text transform="translate(566.23 2059.45) scale(1 1.075)" font-size="24.7" text-anchor="middle">CD4 T</text>
<text transform="translate(421.18 2194.46) scale(1 1.075)" font-size="20.6" text-anchor="end">0.02</text>
<text transform="translate(421.18 2314.97) scale(1 1.075)" font-size="20.6" text-anchor="end">0.01</text>
<text transform="translate(421.18 2435.47) scale(1 1.075)" font-size="20.6" text-anchor="end">0.00</text>
<path d="M427.18 2186.76H432.36M427.18 2307.27H432.36M427.18 2427.77H432.36M508.08 2447.48V2452.65M631.48 2447.48V2452.65M434.48 2068.25V2445.35H707.58" fill="none" stroke="#000" stroke-width="4.25"/>
<text transform="translate(508.08 2474.25) scale(1 1.04)" font-size="18.5" text-anchor="middle">HC</text>
<text transform="translate(632.08 2474.25) scale(1 1.04)" font-size="18.5" text-anchor="middle" letter-spacing="-0.5">LUAD</text>
<path d="M508.08 2199.88V2307.59M508.08 2379.7V2427.54M461.88 2307.59H554.28V2379.7H461.88ZM631.48 2103.72V2211.34M631.48 2295.4V2379.43M585.28 2211.34H677.68V2295.4H585.28Z" fill="none" stroke="#000" stroke-width="4.25" stroke-linejoin="round"/>
<path d="M461.88 2355.69H554.28M585.28 2271.53H677.68" fill="none" stroke="#000" stroke-width="8.5"/>
<g fill="#45a12b"><circle cx="491.42" cy="2200.77" r="4.35"/><circle cx="512.66" cy="2230.88" r="4.35"/><circle cx="490.58" cy="2245.1" r="4.35"/><circle cx="504.8" cy="2244.6" r="4.35"/><circle cx="488.07" cy="2258.15" r="4.35"/><circle cx="526.88" cy="2260.49" r="4.35"/><circle cx="488.91" cy="2276.38" r="4.35"/><circle cx="506.98" cy="2275.54" r="4.35"/><circle cx="485.06" cy="2287.25" r="4.35"/><circle cx="512.33" cy="2291.6" r="4.35"/><circle cx="494.76" cy="2298.13" r="4.35"/><circle cx="495.6" cy="2303.98" r="4.35"/><circle cx="517.68" cy="2304.98" r="4.35"/><circle cx="489.41" cy="2309.84" r="4.35"/><circle cx="507.81" cy="2308.66" r="4.35"/><circle cx="508.98" cy="2314.85" r="4.35"/><circle cx="498.11" cy="2317.03" r="4.35"/><circle cx="525.71" cy="2317.36" r="4.35"/><circle cx="506.14" cy="2319.2" r="4.35"/><circle cx="492.26" cy="2327.9" r="4.35"/><circle cx="497.27" cy="2329.07" r="4.35"/><circle cx="521.86" cy="2333.76" r="4.35"/><circle cx="519.02" cy="2347.64" r="4.35"/><circle cx="517.01" cy="2351.32" r="4.35"/><circle cx="511.16" cy="2359.18" r="4.35"/><circle cx="514" cy="2364.7" r="4.35"/><circle cx="491.42" cy="2365.54" r="4.35"/><circle cx="518.52" cy="2365.21" r="4.35"/><circle cx="521.86" cy="2366.88" r="4.35"/><circle cx="501.79" cy="2367.71" r="4.35"/><circle cx="493.09" cy="2377.25" r="4.35"/><circle cx="498.95" cy="2378.92" r="4.35"/><circle cx="508.98" cy="2379.76" r="4.35"/><circle cx="522.53" cy="2377.75" r="4.35"/><circle cx="506.81" cy="2381.43" r="4.35"/><circle cx="485.56" cy="2383.94" r="4.35"/><circle cx="514" cy="2390.63" r="4.35"/><circle cx="497.78" cy="2393.48" r="4.35"/><circle cx="522.37" cy="2395.65" r="4.35"/><circle cx="492.26" cy="2399.83" r="4.35"/><circle cx="504.47" cy="2400.67" r="4.35"/><circle cx="483.56" cy="2404.85" r="4.35"/><circle cx="525.38" cy="2408.2" r="4.35"/><circle cx="527.05" cy="2413.55" r="4.35"/><circle cx="500.95" cy="2419.07" r="4.35"/><circle cx="529.89" cy="2418.23" r="4.35"/><circle cx="516.85" cy="2423.25" r="4.35"/></g>
<g fill="#d03323"><circle cx="645.82" cy="2098.9" r="4.35"/><circle cx="649.83" cy="2147.74" r="4.35"/><circle cx="626.92" cy="2149.41" r="4.35"/><circle cx="623.9" cy="2151.09" r="4.35"/><circle cx="617.38" cy="2162.46" r="4.35"/><circle cx="612.86" cy="2174.17" r="4.35"/><circle cx="611.53" cy="2185.71" r="4.35"/><circle cx="618.55" cy="2189.9" r="4.35"/><circle cx="608.18" cy="2191.9" r="4.35"/><circle cx="614.87" cy="2191.9" r="4.35"/><circle cx="650.67" cy="2195.25" r="4.35"/><circle cx="621.06" cy="2197.09" r="4.35"/><circle cx="645.65" cy="2206.96" r="4.35"/><circle cx="631.6" cy="2209.47" r="4.35"/><circle cx="632.77" cy="2211.98" r="4.35"/><circle cx="609.85" cy="2213.31" r="4.35"/><circle cx="656.19" cy="2223.02" r="4.35"/><circle cx="608.18" cy="2225.53" r="4.35"/><circle cx="651.51" cy="2225.36" r="4.35"/><circle cx="623.07" cy="2227.87" r="4.35"/><circle cx="627.75" cy="2231.72" r="4.35"/><circle cx="647.49" cy="2237.74" r="4.35"/><circle cx="634.78" cy="2248.44" r="4.35"/><circle cx="613.53" cy="2256.81" r="4.35"/><circle cx="607.18" cy="2259.32" r="4.35"/><circle cx="643.14" cy="2260.99" r="4.35"/><circle cx="652.84" cy="2262.66" r="4.35"/><circle cx="638.63" cy="2267.68" r="4.35"/><circle cx="614.37" cy="2271.03" r="4.35"/><circle cx="643.14" cy="2268.18" r="4.35"/><circle cx="629.93" cy="2273.03" r="4.35"/><circle cx="636.95" cy="2272.7" r="4.35"/><circle cx="649.83" cy="2273.2" r="4.35"/><circle cx="656.52" cy="2273.54" r="4.35"/><circle cx="634.95" cy="2276.04" r="4.35"/><circle cx="641.47" cy="2284.41" r="4.35"/><circle cx="653.68" cy="2286.42" r="4.35"/><circle cx="617.72" cy="2288.26" r="4.35"/><circle cx="619.05" cy="2295.28" r="4.35"/><circle cx="637.79" cy="2294.95" r="4.35"/><circle cx="610.52" cy="2296.95" r="4.35"/><circle cx="626.58" cy="2299.8" r="4.35"/><circle cx="635.78" cy="2305.32" r="4.35"/><circle cx="647.49" cy="2306.66" r="4.35"/><circle cx="634.95" cy="2308.33" r="4.35"/><circle cx="611.86" cy="2315.36" r="4.35"/><circle cx="636.95" cy="2315.69" r="4.35"/><circle cx="619.89" cy="2319.04" r="4.35"/><circle cx="648.33" cy="2327.9" r="4.35"/><circle cx="646.15" cy="2331.25" r="4.35"/><circle cx="629.43" cy="2342.12" r="4.35"/><circle cx="654.18" cy="2343.79" r="4.35"/><circle cx="608.52" cy="2357.68" r="4.35"/><circle cx="620.56" cy="2382.27" r="4.35"/><circle cx="639.13" cy="2381.1" r="4.35"/></g>
<path d="M508.08 2096.35V2086.35H631.48V2096.35" fill="none" stroke="#000" stroke-width="2.4" stroke-linecap="round" stroke-linejoin="round"/>
<text transform="translate(570.17 2083.65) scale(1 1.125)" font-size="21.4" text-anchor="middle" letter-spacing="0.78">1.8e−09</text>
</g>
<g>
<rect x="811.46" y="2032.89" width="271.3" height="38.7" fill="#cbcbcb"/>
<text transform="translate(947.21 2061.19) scale(1 1.075)" font-size="24.7" text-anchor="middle">MAIT</text>
<text transform="translate(798.16 2120.5) scale(1 1.075)" font-size="20.6" text-anchor="end">0.04</text>
<text transform="translate(798.16 2199.46) scale(1 1.075)" font-size="20.6" text-anchor="end">0.03</text>
<text transform="translate(798.16 2278.42) scale(1 1.075)" font-size="20.6" text-anchor="end">0.02</text>
<text transform="translate(798.16 2357.37) scale(1 1.075)" font-size="20.6" text-anchor="end">0.01</text>
<text transform="translate(798.16 2436.33) scale(1 1.075)" font-size="20.6" text-anchor="end">0.00</text>
<path d="M804.16 2112.8H809.34M804.16 2191.76H809.34M804.16 2270.72H809.34M804.16 2349.67H809.34M804.16 2428.63H809.34M885.06 2449.21V2454.39M1008.46 2449.21V2454.39M811.46 2069.99V2447.09H1084.56" fill="none" stroke="#000" stroke-width="4.25"/>
<text transform="translate(885.06 2475.99) scale(1 1.04)" font-size="18.5" text-anchor="middle">HC</text>
<text transform="translate(1009.06 2475.99) scale(1 1.04)" font-size="18.5" text-anchor="middle" letter-spacing="-0.5">LUAD</text>
<path d="M885.06 2184.53V2231.16M885.06 2302.05V2357.51M838.86 2231.16H931.26V2302.05H838.86ZM1008.46 2138.96V2257.01M1008.46 2341.6V2428.53M962.26 2257.01H1054.66V2341.6H962.26Z" fill="none" stroke="#000" stroke-width="4.25" stroke-linejoin="round"/>
<path d="M838.86 2278.87H931.26M962.26 2298.83H1054.66" fill="none" stroke="#000" stroke-width="8.5"/>
<g fill="#45a12b"><circle cx="887.15" cy="2183.53" r="4.35"/><circle cx="886.49" cy="2191.56" r="4.35"/><circle cx="874.27" cy="2198.92" r="4.35"/><circle cx="904.89" cy="2197.75" r="4.35"/><circle cx="894.35" cy="2199.76" r="4.35"/><circle cx="889.33" cy="2203.61" r="4.35"/><circle cx="908.9" cy="2206.11" r="4.35"/><circle cx="885.15" cy="2206.95" r="4.35"/><circle cx="890.17" cy="2206.11" r="4.35"/><circle cx="863.07" cy="2209.79" r="4.35"/><circle cx="882.64" cy="2213.14" r="4.35"/><circle cx="877.95" cy="2217.82" r="4.35"/><circle cx="866.75" cy="2228.7" r="4.35"/><circle cx="888.83" cy="2228.7" r="4.35"/><circle cx="898.53" cy="2228.7" r="4.35"/><circle cx="889.83" cy="2232.88" r="4.35"/><circle cx="908.23" cy="2239.9" r="4.35"/><circle cx="887.82" cy="2246.6" r="4.35"/><circle cx="863.74" cy="2251.78" r="4.35"/><circle cx="892.34" cy="2257.47" r="4.35"/><circle cx="865.58" cy="2262.15" r="4.35"/><circle cx="880.97" cy="2263.49" r="4.35"/><circle cx="907.4" cy="2264.66" r="4.35"/><circle cx="874.78" cy="2275.87" r="4.35"/><circle cx="863.4" cy="2278.04" r="4.35"/><circle cx="862.23" cy="2283.9" r="4.35"/><circle cx="897.36" cy="2283.06" r="4.35"/><circle cx="903.21" cy="2283.57" r="4.35"/><circle cx="866.75" cy="2287.25" r="4.35"/><circle cx="870.93" cy="2286.91" r="4.35"/><circle cx="891.84" cy="2287.58" r="4.35"/><circle cx="886.49" cy="2288.92" r="4.35"/><circle cx="872.6" cy="2295.27" r="4.35"/><circle cx="902.71" cy="2296.78" r="4.35"/><circle cx="909.07" cy="2297.28" r="4.35"/><circle cx="865.91" cy="2301.46" r="4.35"/><circle cx="903.05" cy="2302.3" r="4.35"/><circle cx="884.31" cy="2310.66" r="4.35"/><circle cx="902.71" cy="2310.66" r="4.35"/><circle cx="908.23" cy="2311" r="4.35"/><circle cx="881.47" cy="2315.18" r="4.35"/><circle cx="886.49" cy="2316.18" r="4.35"/><circle cx="891.34" cy="2317.86" r="4.35"/><circle cx="861.39" cy="2321.04" r="4.35"/><circle cx="882.3" cy="2339.1" r="4.35"/><circle cx="886.49" cy="2340.77" r="4.35"/><circle cx="866.75" cy="2344.96" r="4.35"/><circle cx="874.27" cy="2352.48" r="4.35"/><circle cx="878.12" cy="2358.84" r="4.35"/></g>
<g fill="#d03323"><circle cx="985.52" cy="2102.4" r="4.35"/><circle cx="1031.52" cy="2123.81" r="4.35"/><circle cx="996.72" cy="2129.17" r="4.35"/><circle cx="1008.93" cy="2138.03" r="4.35"/><circle cx="1031.18" cy="2152.08" r="4.35"/><circle cx="1013.95" cy="2154.26" r="4.35"/><circle cx="1015.63" cy="2186.04" r="4.35"/><circle cx="1028.51" cy="2185.54" r="4.35"/><circle cx="985.18" cy="2212.81" r="4.35"/><circle cx="1000.9" cy="2213.31" r="4.35"/><circle cx="1016.46" cy="2224.85" r="4.35"/><circle cx="994.38" cy="2234.05" r="4.35"/><circle cx="1009.77" cy="2246.76" r="4.35"/><circle cx="1006.43" cy="2255.96" r="4.35"/><circle cx="1016.13" cy="2260.48" r="4.35"/><circle cx="991.04" cy="2262.66" r="4.35"/><circle cx="987.19" cy="2270.52" r="4.35"/><circle cx="1023.99" cy="2278.55" r="4.35"/><circle cx="1029.51" cy="2279.72" r="4.35"/><circle cx="998.56" cy="2283.57" r="4.35"/><circle cx="1002.75" cy="2284.74" r="4.35"/><circle cx="1013.62" cy="2287.25" r="4.35"/><circle cx="1026.5" cy="2291.93" r="4.35"/><circle cx="993.88" cy="2293.1" r="4.35"/><circle cx="990.53" cy="2295.27" r="4.35"/><circle cx="1007.6" cy="2293.94" r="4.35"/><circle cx="1021.48" cy="2293.94" r="4.35"/><circle cx="1018.97" cy="2295.61" r="4.35"/><circle cx="1005.92" cy="2298.12" r="4.35"/><circle cx="1002.24" cy="2301.46" r="4.35"/><circle cx="986.85" cy="2304.81" r="4.35"/><circle cx="1003.08" cy="2304.81" r="4.35"/><circle cx="997.56" cy="2307.32" r="4.35"/><circle cx="1013.62" cy="2311" r="4.35"/><circle cx="1006.76" cy="2320.37" r="4.35"/><circle cx="1022.32" cy="2322.88" r="4.35"/><circle cx="985.18" cy="2331.07" r="4.35"/><circle cx="1003.92" cy="2331.07" r="4.35"/><circle cx="1010.94" cy="2334.08" r="4.35"/><circle cx="1028.17" cy="2334.42" r="4.35"/><circle cx="1006.76" cy="2338.27" r="4.35"/><circle cx="1011.44" cy="2340.44" r="4.35"/><circle cx="985.18" cy="2349.98" r="4.35"/><circle cx="1027.34" cy="2348.64" r="4.35"/><circle cx="1020.64" cy="2351.31" r="4.35"/><circle cx="1029.51" cy="2355.83" r="4.35"/><circle cx="1000.57" cy="2364.53" r="4.35"/><circle cx="1022.32" cy="2364.53" r="4.35"/><circle cx="1008.93" cy="2367.21" r="4.35"/><circle cx="1011.78" cy="2373.39" r="4.35"/><circle cx="1011.44" cy="2383.43" r="4.35"/><circle cx="1026.5" cy="2390.96" r="4.35"/><circle cx="1030.35" cy="2391.29" r="4.35"/><circle cx="1030.35" cy="2408.02" r="4.35"/><circle cx="995.55" cy="2427.26" r="4.35"/><circle cx="1023.49" cy="2429.94" r="4.35"/></g>
<path d="M885.06 2098.09V2088.09H1008.46V2098.09" fill="none" stroke="#000" stroke-width="2.4" stroke-linecap="round" stroke-linejoin="round"/>
<text transform="translate(947.15 2085.39) scale(1 1.125)" font-size="21.4" text-anchor="middle" letter-spacing="0.78">0.019</text>
</g>
<g>
<rect x="1163.94" y="2030.57" width="271.3" height="38.7" fill="#cbcbcb"/>
<text transform="translate(1298.79 2058.87) scale(1 1.075)" font-size="24.7" text-anchor="middle">Gamma delta</text>
<text transform="translate(1150.64 2086.91) scale(1 1.075)" font-size="20.6" text-anchor="end">0.03</text>
<text transform="translate(1150.64 2201.95) scale(1 1.075)" font-size="20.6" text-anchor="end">0.02</text>
<text transform="translate(1150.64 2316.98) scale(1 1.075)" font-size="20.6" text-anchor="end">0.01</text>
<text transform="translate(1150.64 2432.02) scale(1 1.075)" font-size="20.6" text-anchor="end">0.00</text>
<path d="M1156.64 2079.21H1161.82M1156.64 2194.25H1161.82M1156.64 2309.28H1161.82M1156.64 2424.32H1161.82M1237.54 2446.9V2452.07M1360.94 2446.9V2452.07M1163.94 2067.67V2444.77H1437.04" fill="none" stroke="#000" stroke-width="4.25"/>
<text transform="translate(1237.54 2473.67) scale(1 1.04)" font-size="18.5" text-anchor="middle">HC</text>
<text transform="translate(1361.54 2473.67) scale(1 1.04)" font-size="18.5" text-anchor="middle" letter-spacing="-0.5">LUAD</text>
<path d="M1237.54 2229.21V2285.85M1237.54 2377.95V2423.85M1191.34 2285.85H1283.74V2377.95H1191.34ZM1360.94 2102.77V2220.03M1360.94 2363.66V2424.12M1314.74 2220.03H1407.14V2363.66H1314.74Z" fill="none" stroke="#000" stroke-width="4.25" stroke-linejoin="round"/>
<path d="M1191.34 2332.31H1283.74M1314.74 2280.88H1407.14" fill="none" stroke="#000" stroke-width="8.5"/>
<g fill="#45a12b"><circle cx="1241.99" cy="2228.21" r="4.35"/><circle cx="1248.18" cy="2232.72" r="4.35"/><circle cx="1261.57" cy="2237.91" r="4.35"/><circle cx="1250.69" cy="2255.81" r="4.35"/><circle cx="1222.59" cy="2258.32" r="4.35"/><circle cx="1230.62" cy="2263.84" r="4.35"/><circle cx="1253.2" cy="2267.52" r="4.35"/><circle cx="1221.42" cy="2272.54" r="4.35"/><circle cx="1230.95" cy="2271.36" r="4.35"/><circle cx="1222.76" cy="2282.91" r="4.35"/><circle cx="1231.46" cy="2282.24" r="4.35"/><circle cx="1249.35" cy="2285.42" r="4.35"/><circle cx="1248.69" cy="2288.93" r="4.35"/><circle cx="1250.19" cy="2301.81" r="4.35"/><circle cx="1217.24" cy="2306.83" r="4.35"/><circle cx="1216.4" cy="2309.34" r="4.35"/><circle cx="1229.78" cy="2306.83" r="4.35"/><circle cx="1250.19" cy="2316.36" r="4.35"/><circle cx="1261.9" cy="2316.36" r="4.35"/><circle cx="1260.73" cy="2321.38" r="4.35"/><circle cx="1235.14" cy="2323.89" r="4.35"/><circle cx="1237.81" cy="2330.25" r="4.35"/><circle cx="1239.49" cy="2332.76" r="4.35"/><circle cx="1254.54" cy="2332.76" r="4.35"/><circle cx="1223.09" cy="2339.95" r="4.35"/><circle cx="1218.91" cy="2341.62" r="4.35"/><circle cx="1243.5" cy="2340.79" r="4.35"/><circle cx="1220.92" cy="2354" r="4.35"/><circle cx="1243.17" cy="2354.84" r="4.35"/><circle cx="1256.21" cy="2357.85" r="4.35"/><circle cx="1247.01" cy="2359.52" r="4.35"/><circle cx="1249.86" cy="2362.53" r="4.35"/><circle cx="1238.15" cy="2368.72" r="4.35"/><circle cx="1242.33" cy="2368.39" r="4.35"/><circle cx="1254.54" cy="2376.25" r="4.35"/><circle cx="1232.29" cy="2386.29" r="4.35"/><circle cx="1224.76" cy="2390.13" r="4.35"/><circle cx="1243.17" cy="2391.64" r="4.35"/><circle cx="1248.69" cy="2392.64" r="4.35"/><circle cx="1245.34" cy="2396.66" r="4.35"/><circle cx="1231.46" cy="2401.68" r="4.35"/><circle cx="1214.73" cy="2412.72" r="4.35"/><circle cx="1220.58" cy="2413.55" r="4.35"/><circle cx="1249.86" cy="2412.21" r="4.35"/><circle cx="1256.21" cy="2411.38" r="4.35"/><circle cx="1220.08" cy="2426.94" r="4.35"/><circle cx="1247.85" cy="2426.6" r="4.35"/></g>
<g fill="#d03323"><circle cx="1338.52" cy="2106.09" r="4.35"/><circle cx="1339.02" cy="2126.5" r="4.35"/><circle cx="1348.89" cy="2163.3" r="4.35"/><circle cx="1364.78" cy="2167.15" r="4.35"/><circle cx="1344.37" cy="2192.74" r="4.35"/><circle cx="1354.74" cy="2195.59" r="4.35"/><circle cx="1374.98" cy="2196.09" r="4.35"/><circle cx="1360.6" cy="2198.93" r="4.35"/><circle cx="1379.5" cy="2202.61" r="4.35"/><circle cx="1383.68" cy="2202.28" r="4.35"/><circle cx="1383.35" cy="2206.46" r="4.35"/><circle cx="1360.76" cy="2210.14" r="4.35"/><circle cx="1376.99" cy="2213.99" r="4.35"/><circle cx="1380.34" cy="2215.66" r="4.35"/><circle cx="1341.86" cy="2218.17" r="4.35"/><circle cx="1368.63" cy="2224.86" r="4.35"/><circle cx="1376.49" cy="2227.87" r="4.35"/><circle cx="1351.9" cy="2241.92" r="4.35"/><circle cx="1337.34" cy="2249.62" r="4.35"/><circle cx="1351.9" cy="2248.28" r="4.35"/><circle cx="1353.9" cy="2251.29" r="4.35"/><circle cx="1365.78" cy="2252.8" r="4.35"/><circle cx="1375.32" cy="2254.97" r="4.35"/><circle cx="1371.97" cy="2259.99" r="4.35"/><circle cx="1336.84" cy="2262.5" r="4.35"/><circle cx="1378.33" cy="2262.83" r="4.35"/><circle cx="1366.95" cy="2265.34" r="4.35"/><circle cx="1354.74" cy="2271.2" r="4.35"/><circle cx="1370.8" cy="2277.55" r="4.35"/><circle cx="1380.34" cy="2282.24" r="4.35"/><circle cx="1355.75" cy="2284.25" r="4.35"/><circle cx="1373.64" cy="2288.93" r="4.35"/><circle cx="1361.6" cy="2302.14" r="4.35"/><circle cx="1341.02" cy="2304.82" r="4.35"/><circle cx="1369.13" cy="2309.34" r="4.35"/><circle cx="1384.52" cy="2323.05" r="4.35"/><circle cx="1353.9" cy="2331.08" r="4.35"/><circle cx="1338.85" cy="2336.44" r="4.35"/><circle cx="1353.9" cy="2340.28" r="4.35"/><circle cx="1360.26" cy="2343.96" r="4.35"/><circle cx="1370.8" cy="2345.64" r="4.35"/><circle cx="1344.7" cy="2353.33" r="4.35"/><circle cx="1336.84" cy="2357.01" r="4.35"/><circle cx="1382.01" cy="2366.21" r="4.35"/><circle cx="1361.1" cy="2369.89" r="4.35"/><circle cx="1339.35" cy="2379.26" r="4.35"/><circle cx="1373.64" cy="2385.45" r="4.35"/><circle cx="1366.45" cy="2389.3" r="4.35"/><circle cx="1343.03" cy="2391.3" r="4.35"/><circle cx="1340.19" cy="2398" r="4.35"/><circle cx="1351.4" cy="2408.37" r="4.35"/><circle cx="1359.76" cy="2410.21" r="4.35"/><circle cx="1359.76" cy="2414.72" r="4.35"/><circle cx="1382.84" cy="2415.06" r="4.35"/><circle cx="1359.43" cy="2422.59" r="4.35"/><circle cx="1346.88" cy="2427.6" r="4.35"/></g>
<path d="M1237.54 2095.77V2085.77H1360.94V2095.77" fill="none" stroke="#000" stroke-width="2.4" stroke-linecap="round" stroke-linejoin="round"/>
<text transform="translate(1299.63 2083.07) scale(1 1.125)" font-size="21.4" text-anchor="middle" letter-spacing="0.78">0.0052</text>
</g>
<text transform="translate(782.8 620.5) scale(1 1.04)" font-size="37.7">group</text>
<circle cx="802.1" cy="664" r="4.95" fill="#45a12b"/>
<text transform="translate(840.3 675.3) scale(1 1.04)" font-size="32.1">HC</text>
<circle cx="802.1" cy="702.8" r="4.95" fill="#d03323"/>
<text transform="translate(840.3 713.2) scale(1 1.04)" font-size="32.1">COPD</text>
<text transform="translate(1515.5 2152) scale(1 1.04)" font-size="37.7">group</text>
<circle cx="1534.8" cy="2195.6" r="4.95" fill="#45a12b"/>
<text transform="translate(1573 2207.7) scale(1 1.04)" font-size="32.1">HC</text>
<circle cx="1534.8" cy="2234.2" r="4.95" fill="#d03323"/>
<text transform="translate(1573 2246.1) scale(1 1.04)" font-size="32.1" letter-spacing="-0.7">LUAD</text>
<text transform="translate(2.4 38) scale(1.065 1.04)" font-size="43">A</text>
<text transform="translate(0.7 1049.9) scale(0.963 1.016)" font-size="43">B</text>
</svg>
</body></html>
